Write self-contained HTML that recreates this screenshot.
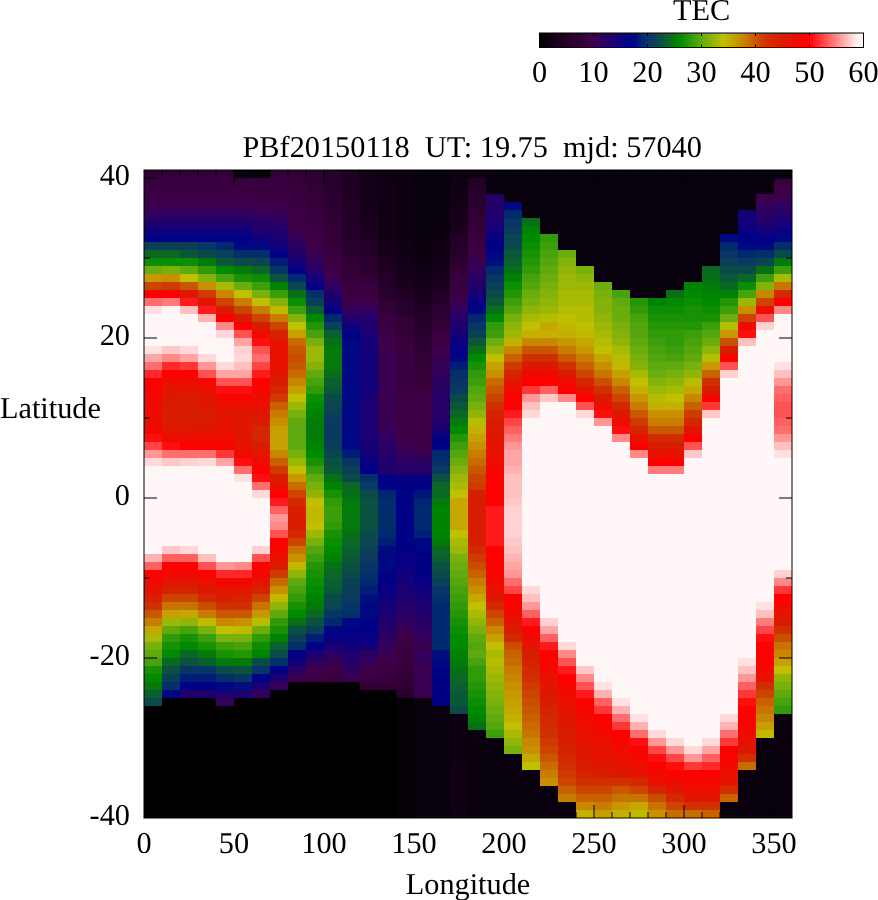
<!DOCTYPE html>
<html><head><meta charset="utf-8"><style>
html,body{margin:0;padding:0;background:#fff;width:878px;height:900px;overflow:hidden}
svg{display:block;will-change:transform;font-family:"Liberation Serif","Times New Roman",serif;font-size:30.3px;text-rendering:geometricPrecision}
</style></head><body>
<svg width="878" height="900" viewBox="0 0 878 900">
<g shape-rendering="crispEdges">
<rect x="144" y="170" width="18" height="8" fill="#320037"/>
<rect x="144" y="178" width="18" height="8" fill="#38003e"/>
<rect x="144" y="186" width="18" height="8" fill="#3b0041"/>
<rect x="144" y="194" width="18" height="8" fill="#3e0044"/>
<rect x="144" y="202" width="18" height="8" fill="#390052"/>
<rect x="144" y="210" width="18" height="8" fill="#2f005f"/>
<rect x="144" y="218" width="18" height="8" fill="#22006b"/>
<rect x="144" y="226" width="18" height="8" fill="#11007a"/>
<rect x="144" y="234" width="18" height="8" fill="#000286"/>
<rect x="144" y="242" width="18" height="8" fill="#0a3f58"/>
<rect x="144" y="250" width="18" height="8" fill="#0a6724"/>
<rect x="144" y="258" width="18" height="8" fill="#0c8e02"/>
<rect x="144" y="266" width="18" height="8" fill="#6cad0e"/>
<rect x="144" y="274" width="18" height="8" fill="#c79800"/>
<rect x="144" y="282" width="18" height="8" fill="#cc4400"/>
<rect x="144" y="290" width="18" height="8" fill="#ff0000"/>
<rect x="144" y="298" width="18" height="8" fill="#ff6e6e"/>
<rect x="144" y="306" width="18" height="8" fill="#ffe1e1"/>
<rect x="144" y="314" width="18" height="32" fill="#fff7f7"/>
<rect x="144" y="346" width="18" height="8" fill="#ffe1e1"/>
<rect x="144" y="354" width="18" height="8" fill="#ffa5a5"/>
<rect x="144" y="362" width="18" height="8" fill="#ff6e6e"/>
<rect x="144" y="370" width="18" height="8" fill="#ff2929"/>
<rect x="144" y="378" width="18" height="16" fill="#ff0000"/>
<rect x="144" y="394" width="18" height="8" fill="#f70600"/>
<rect x="144" y="402" width="18" height="24" fill="#ef0b00"/>
<rect x="144" y="426" width="18" height="8" fill="#f30800"/>
<rect x="144" y="434" width="18" height="8" fill="#ff0e0e"/>
<rect x="144" y="442" width="18" height="8" fill="#ff4545"/>
<rect x="144" y="450" width="18" height="8" fill="#ff9797"/>
<rect x="144" y="458" width="18" height="8" fill="#ffd9d9"/>
<rect x="144" y="466" width="18" height="88" fill="#fff7f7"/>
<rect x="144" y="554" width="18" height="8" fill="#ffb2b2"/>
<rect x="144" y="562" width="18" height="8" fill="#ff6060"/>
<rect x="144" y="570" width="18" height="8" fill="#ff0000"/>
<rect x="144" y="578" width="18" height="8" fill="#f30800"/>
<rect x="144" y="586" width="18" height="8" fill="#e81100"/>
<rect x="144" y="594" width="18" height="8" fill="#d71f00"/>
<rect x="144" y="602" width="18" height="8" fill="#d03000"/>
<rect x="144" y="610" width="18" height="8" fill="#c85800"/>
<rect x="144" y="618" width="18" height="8" fill="#c87d00"/>
<rect x="144" y="626" width="18" height="8" fill="#c4a800"/>
<rect x="144" y="634" width="18" height="8" fill="#a8ba04"/>
<rect x="144" y="642" width="18" height="8" fill="#78b00c"/>
<rect x="144" y="650" width="18" height="8" fill="#60aa10"/>
<rect x="144" y="658" width="18" height="8" fill="#48a20c"/>
<rect x="144" y="666" width="18" height="8" fill="#189204"/>
<rect x="144" y="674" width="18" height="8" fill="#008a00"/>
<rect x="144" y="682" width="18" height="8" fill="#037a09"/>
<rect x="144" y="690" width="18" height="8" fill="#0a602e"/>
<rect x="144" y="698" width="18" height="8" fill="#0a4a48"/>
<rect x="144" y="706" width="18" height="112" fill="#000000"/>
<rect x="162" y="170" width="18" height="8" fill="#35003a"/>
<rect x="162" y="178" width="18" height="8" fill="#38003e"/>
<rect x="162" y="186" width="18" height="8" fill="#3b0041"/>
<rect x="162" y="194" width="18" height="8" fill="#3e0044"/>
<rect x="162" y="202" width="18" height="8" fill="#390052"/>
<rect x="162" y="210" width="18" height="8" fill="#2f005f"/>
<rect x="162" y="218" width="18" height="8" fill="#22006b"/>
<rect x="162" y="226" width="18" height="8" fill="#11007a"/>
<rect x="162" y="234" width="18" height="8" fill="#000286"/>
<rect x="162" y="242" width="18" height="8" fill="#0a3f58"/>
<rect x="162" y="250" width="18" height="8" fill="#0a6724"/>
<rect x="162" y="258" width="18" height="8" fill="#0c8e02"/>
<rect x="162" y="266" width="18" height="8" fill="#78b00c"/>
<rect x="162" y="274" width="18" height="8" fill="#c89000"/>
<rect x="162" y="282" width="18" height="8" fill="#ce3a00"/>
<rect x="162" y="290" width="18" height="8" fill="#ff0000"/>
<rect x="162" y="298" width="18" height="8" fill="#ff7c7c"/>
<rect x="162" y="306" width="18" height="40" fill="#fff7f7"/>
<rect x="162" y="346" width="18" height="8" fill="#ffc8c8"/>
<rect x="162" y="354" width="18" height="8" fill="#ff8989"/>
<rect x="162" y="362" width="18" height="8" fill="#ff2929"/>
<rect x="162" y="370" width="18" height="8" fill="#ff0000"/>
<rect x="162" y="378" width="18" height="8" fill="#ef0b00"/>
<rect x="162" y="386" width="18" height="8" fill="#e01600"/>
<rect x="162" y="394" width="18" height="8" fill="#dc1900"/>
<rect x="162" y="402" width="18" height="24" fill="#d81c00"/>
<rect x="162" y="426" width="18" height="8" fill="#e01600"/>
<rect x="162" y="434" width="18" height="8" fill="#ef0b00"/>
<rect x="162" y="442" width="18" height="8" fill="#ff0e0e"/>
<rect x="162" y="450" width="18" height="8" fill="#ff6e6e"/>
<rect x="162" y="458" width="18" height="8" fill="#ffc8c8"/>
<rect x="162" y="466" width="18" height="80" fill="#fff7f7"/>
<rect x="162" y="546" width="18" height="8" fill="#ffc8c8"/>
<rect x="162" y="554" width="18" height="8" fill="#ff6060"/>
<rect x="162" y="562" width="18" height="8" fill="#ff0000"/>
<rect x="162" y="570" width="18" height="8" fill="#f30800"/>
<rect x="162" y="578" width="18" height="8" fill="#e01600"/>
<rect x="162" y="586" width="18" height="8" fill="#d52300"/>
<rect x="162" y="594" width="18" height="8" fill="#cc4400"/>
<rect x="162" y="602" width="18" height="8" fill="#c87400"/>
<rect x="162" y="610" width="18" height="8" fill="#c5a000"/>
<rect x="162" y="618" width="18" height="8" fill="#9cb806"/>
<rect x="162" y="626" width="18" height="8" fill="#60aa10"/>
<rect x="162" y="634" width="18" height="8" fill="#309a08"/>
<rect x="162" y="642" width="18" height="8" fill="#189204"/>
<rect x="162" y="650" width="18" height="8" fill="#008a00"/>
<rect x="162" y="658" width="18" height="8" fill="#0a6724"/>
<rect x="162" y="666" width="18" height="8" fill="#0a5140"/>
<rect x="162" y="674" width="18" height="8" fill="#0a3f58"/>
<rect x="162" y="682" width="18" height="8" fill="#032f6b"/>
<rect x="162" y="690" width="18" height="8" fill="#000782"/>
<rect x="162" y="698" width="18" height="120" fill="#000000"/>
<rect x="180" y="170" width="18" height="8" fill="#35003a"/>
<rect x="180" y="178" width="18" height="8" fill="#38003e"/>
<rect x="180" y="186" width="18" height="8" fill="#3b0041"/>
<rect x="180" y="194" width="18" height="8" fill="#3e0044"/>
<rect x="180" y="202" width="18" height="8" fill="#390052"/>
<rect x="180" y="210" width="18" height="8" fill="#2f005f"/>
<rect x="180" y="218" width="18" height="8" fill="#22006b"/>
<rect x="180" y="226" width="18" height="8" fill="#11007a"/>
<rect x="180" y="234" width="18" height="8" fill="#000286"/>
<rect x="180" y="242" width="18" height="8" fill="#0a3f58"/>
<rect x="180" y="250" width="18" height="8" fill="#0a5838"/>
<rect x="180" y="258" width="18" height="8" fill="#0c8e02"/>
<rect x="180" y="266" width="18" height="8" fill="#60aa10"/>
<rect x="180" y="274" width="18" height="8" fill="#c0c000"/>
<rect x="180" y="282" width="18" height="8" fill="#c85800"/>
<rect x="180" y="290" width="18" height="8" fill="#e01600"/>
<rect x="180" y="298" width="18" height="8" fill="#ff1b1b"/>
<rect x="180" y="306" width="18" height="8" fill="#ffc0c0"/>
<rect x="180" y="314" width="18" height="32" fill="#fff7f7"/>
<rect x="180" y="346" width="18" height="8" fill="#ffd9d9"/>
<rect x="180" y="354" width="18" height="8" fill="#ffa5a5"/>
<rect x="180" y="362" width="18" height="8" fill="#ff3737"/>
<rect x="180" y="370" width="18" height="8" fill="#ff0000"/>
<rect x="180" y="378" width="18" height="8" fill="#ef0b00"/>
<rect x="180" y="386" width="18" height="8" fill="#e01600"/>
<rect x="180" y="394" width="18" height="32" fill="#d81c00"/>
<rect x="180" y="426" width="18" height="8" fill="#e01600"/>
<rect x="180" y="434" width="18" height="8" fill="#ef0b00"/>
<rect x="180" y="442" width="18" height="8" fill="#ff0000"/>
<rect x="180" y="450" width="18" height="8" fill="#ff6e6e"/>
<rect x="180" y="458" width="18" height="8" fill="#ffd1d1"/>
<rect x="180" y="466" width="18" height="80" fill="#fff7f7"/>
<rect x="180" y="546" width="18" height="8" fill="#ffd9d9"/>
<rect x="180" y="554" width="18" height="8" fill="#ff6060"/>
<rect x="180" y="562" width="18" height="8" fill="#ff0000"/>
<rect x="180" y="570" width="18" height="8" fill="#f30800"/>
<rect x="180" y="578" width="18" height="8" fill="#e01600"/>
<rect x="180" y="586" width="18" height="8" fill="#d52300"/>
<rect x="180" y="594" width="18" height="8" fill="#cc4400"/>
<rect x="180" y="602" width="18" height="8" fill="#c87400"/>
<rect x="180" y="610" width="18" height="8" fill="#c4a800"/>
<rect x="180" y="618" width="18" height="8" fill="#90b508"/>
<rect x="180" y="626" width="18" height="8" fill="#48a20c"/>
<rect x="180" y="634" width="18" height="8" fill="#189204"/>
<rect x="180" y="642" width="18" height="8" fill="#008a00"/>
<rect x="180" y="650" width="18" height="8" fill="#0a6724"/>
<rect x="180" y="658" width="18" height="8" fill="#0a5140"/>
<rect x="180" y="666" width="18" height="8" fill="#073565"/>
<rect x="180" y="674" width="18" height="8" fill="#001d77"/>
<rect x="180" y="682" width="18" height="8" fill="#000286"/>
<rect x="180" y="690" width="18" height="8" fill="#22006b"/>
<rect x="180" y="698" width="18" height="120" fill="#000000"/>
<rect x="198" y="170" width="18" height="8" fill="#35003a"/>
<rect x="198" y="178" width="18" height="8" fill="#38003e"/>
<rect x="198" y="186" width="18" height="8" fill="#3b0041"/>
<rect x="198" y="194" width="18" height="8" fill="#3e0044"/>
<rect x="198" y="202" width="18" height="8" fill="#390052"/>
<rect x="198" y="210" width="18" height="8" fill="#2f005f"/>
<rect x="198" y="218" width="18" height="8" fill="#22006b"/>
<rect x="198" y="226" width="18" height="8" fill="#11007a"/>
<rect x="198" y="234" width="18" height="8" fill="#000286"/>
<rect x="198" y="242" width="18" height="8" fill="#073565"/>
<rect x="198" y="250" width="18" height="8" fill="#0a4a48"/>
<rect x="198" y="258" width="18" height="8" fill="#037a09"/>
<rect x="198" y="266" width="18" height="8" fill="#309a08"/>
<rect x="198" y="274" width="18" height="8" fill="#84b20a"/>
<rect x="198" y="282" width="18" height="8" fill="#c89000"/>
<rect x="198" y="290" width="18" height="8" fill="#ce3a00"/>
<rect x="198" y="298" width="18" height="8" fill="#e01600"/>
<rect x="198" y="306" width="18" height="8" fill="#ff1b1b"/>
<rect x="198" y="314" width="18" height="8" fill="#ffb2b2"/>
<rect x="198" y="322" width="18" height="32" fill="#fff7f7"/>
<rect x="198" y="354" width="18" height="8" fill="#ffd9d9"/>
<rect x="198" y="362" width="18" height="8" fill="#ff9797"/>
<rect x="198" y="370" width="18" height="8" fill="#ff5252"/>
<rect x="198" y="378" width="18" height="8" fill="#f70600"/>
<rect x="198" y="386" width="18" height="8" fill="#e81100"/>
<rect x="198" y="394" width="18" height="8" fill="#e01600"/>
<rect x="198" y="402" width="18" height="8" fill="#dc1900"/>
<rect x="198" y="410" width="18" height="8" fill="#d81c00"/>
<rect x="198" y="418" width="18" height="8" fill="#dc1900"/>
<rect x="198" y="426" width="18" height="8" fill="#e01600"/>
<rect x="198" y="434" width="18" height="8" fill="#ef0b00"/>
<rect x="198" y="442" width="18" height="8" fill="#f70600"/>
<rect x="198" y="450" width="18" height="8" fill="#ff6e6e"/>
<rect x="198" y="458" width="18" height="8" fill="#ffd9d9"/>
<rect x="198" y="466" width="18" height="88" fill="#fff7f7"/>
<rect x="198" y="554" width="18" height="8" fill="#ffc0c0"/>
<rect x="198" y="562" width="18" height="8" fill="#ff5252"/>
<rect x="198" y="570" width="18" height="8" fill="#ff0000"/>
<rect x="198" y="578" width="18" height="8" fill="#ec0e00"/>
<rect x="198" y="586" width="18" height="8" fill="#dc1900"/>
<rect x="198" y="594" width="18" height="8" fill="#d42600"/>
<rect x="198" y="602" width="18" height="8" fill="#ca4e00"/>
<rect x="198" y="610" width="18" height="8" fill="#c87d00"/>
<rect x="198" y="618" width="18" height="8" fill="#c1b800"/>
<rect x="198" y="626" width="18" height="8" fill="#78b00c"/>
<rect x="198" y="634" width="18" height="8" fill="#3c9e0a"/>
<rect x="198" y="642" width="18" height="8" fill="#189204"/>
<rect x="198" y="650" width="18" height="8" fill="#037a09"/>
<rect x="198" y="658" width="18" height="8" fill="#0a602e"/>
<rect x="198" y="666" width="18" height="8" fill="#073565"/>
<rect x="198" y="674" width="18" height="8" fill="#001d77"/>
<rect x="198" y="682" width="18" height="8" fill="#000286"/>
<rect x="198" y="690" width="18" height="8" fill="#22006b"/>
<rect x="198" y="698" width="18" height="120" fill="#000000"/>
<rect x="216" y="170" width="18" height="8" fill="#35003a"/>
<rect x="216" y="178" width="18" height="8" fill="#38003e"/>
<rect x="216" y="186" width="18" height="8" fill="#3b0041"/>
<rect x="216" y="194" width="18" height="8" fill="#3e0044"/>
<rect x="216" y="202" width="18" height="8" fill="#390052"/>
<rect x="216" y="210" width="18" height="8" fill="#2f005f"/>
<rect x="216" y="218" width="18" height="8" fill="#22006b"/>
<rect x="216" y="226" width="18" height="8" fill="#11007a"/>
<rect x="216" y="234" width="18" height="8" fill="#000286"/>
<rect x="216" y="242" width="18" height="8" fill="#002a70"/>
<rect x="216" y="250" width="18" height="8" fill="#0a3f58"/>
<rect x="216" y="258" width="18" height="8" fill="#0a5838"/>
<rect x="216" y="266" width="18" height="8" fill="#008a00"/>
<rect x="216" y="274" width="18" height="8" fill="#48a20c"/>
<rect x="216" y="282" width="18" height="8" fill="#a8ba04"/>
<rect x="216" y="290" width="18" height="8" fill="#c88700"/>
<rect x="216" y="298" width="18" height="8" fill="#cc4400"/>
<rect x="216" y="306" width="18" height="8" fill="#d81c00"/>
<rect x="216" y="314" width="18" height="8" fill="#ff0000"/>
<rect x="216" y="322" width="18" height="8" fill="#ff8989"/>
<rect x="216" y="330" width="18" height="8" fill="#ffd9d9"/>
<rect x="216" y="338" width="18" height="24" fill="#fff7f7"/>
<rect x="216" y="362" width="18" height="8" fill="#ffd9d9"/>
<rect x="216" y="370" width="18" height="8" fill="#ffa5a5"/>
<rect x="216" y="378" width="18" height="8" fill="#ff5252"/>
<rect x="216" y="386" width="18" height="8" fill="#ff0e0e"/>
<rect x="216" y="394" width="18" height="8" fill="#f30800"/>
<rect x="216" y="402" width="18" height="8" fill="#e81100"/>
<rect x="216" y="410" width="18" height="16" fill="#e41400"/>
<rect x="216" y="426" width="18" height="8" fill="#e81100"/>
<rect x="216" y="434" width="18" height="8" fill="#ef0b00"/>
<rect x="216" y="442" width="18" height="8" fill="#f70600"/>
<rect x="216" y="450" width="18" height="8" fill="#ff3737"/>
<rect x="216" y="458" width="18" height="8" fill="#ffa5a5"/>
<rect x="216" y="466" width="18" height="96" fill="#fff7f7"/>
<rect x="216" y="562" width="18" height="8" fill="#ff9797"/>
<rect x="216" y="570" width="18" height="8" fill="#ff2929"/>
<rect x="216" y="578" width="18" height="8" fill="#f30800"/>
<rect x="216" y="586" width="18" height="8" fill="#e41400"/>
<rect x="216" y="594" width="18" height="8" fill="#d71f00"/>
<rect x="216" y="602" width="18" height="8" fill="#d03000"/>
<rect x="216" y="610" width="18" height="8" fill="#c85800"/>
<rect x="216" y="618" width="18" height="8" fill="#c88700"/>
<rect x="216" y="626" width="18" height="8" fill="#c0c000"/>
<rect x="216" y="634" width="18" height="8" fill="#78b00c"/>
<rect x="216" y="642" width="18" height="8" fill="#3c9e0a"/>
<rect x="216" y="650" width="18" height="8" fill="#189204"/>
<rect x="216" y="658" width="18" height="8" fill="#037a09"/>
<rect x="216" y="666" width="18" height="8" fill="#0a4a48"/>
<rect x="216" y="674" width="18" height="8" fill="#032f6b"/>
<rect x="216" y="682" width="18" height="8" fill="#000782"/>
<rect x="216" y="690" width="18" height="8" fill="#1e006f"/>
<rect x="216" y="698" width="18" height="8" fill="#34005a"/>
<rect x="216" y="706" width="18" height="112" fill="#000000"/>
<rect x="234" y="170" width="18" height="8" fill="#08000c"/>
<rect x="234" y="178" width="18" height="8" fill="#38003e"/>
<rect x="234" y="186" width="18" height="8" fill="#3b0041"/>
<rect x="234" y="194" width="18" height="8" fill="#3e0044"/>
<rect x="234" y="202" width="18" height="8" fill="#390052"/>
<rect x="234" y="210" width="18" height="8" fill="#2f005f"/>
<rect x="234" y="218" width="18" height="8" fill="#22006b"/>
<rect x="234" y="226" width="18" height="8" fill="#11007a"/>
<rect x="234" y="234" width="18" height="8" fill="#000286"/>
<rect x="234" y="242" width="18" height="8" fill="#000782"/>
<rect x="234" y="250" width="18" height="8" fill="#032f6b"/>
<rect x="234" y="258" width="18" height="8" fill="#0a4a48"/>
<rect x="234" y="266" width="18" height="8" fill="#037a09"/>
<rect x="234" y="274" width="18" height="8" fill="#189204"/>
<rect x="234" y="282" width="18" height="8" fill="#6cad0e"/>
<rect x="234" y="290" width="18" height="8" fill="#c0c000"/>
<rect x="234" y="298" width="18" height="8" fill="#c87d00"/>
<rect x="234" y="306" width="18" height="8" fill="#cc4400"/>
<rect x="234" y="314" width="18" height="8" fill="#d81c00"/>
<rect x="234" y="322" width="18" height="8" fill="#ff0000"/>
<rect x="234" y="330" width="18" height="8" fill="#ff5252"/>
<rect x="234" y="338" width="18" height="8" fill="#ffa5a5"/>
<rect x="234" y="346" width="18" height="8" fill="#ffd1d1"/>
<rect x="234" y="354" width="18" height="8" fill="#ffd9d9"/>
<rect x="234" y="362" width="18" height="8" fill="#ffc0c0"/>
<rect x="234" y="370" width="18" height="8" fill="#ffa5a5"/>
<rect x="234" y="378" width="18" height="8" fill="#ff5252"/>
<rect x="234" y="386" width="18" height="8" fill="#ff0e0e"/>
<rect x="234" y="394" width="18" height="8" fill="#fb0300"/>
<rect x="234" y="402" width="18" height="8" fill="#e81100"/>
<rect x="234" y="410" width="18" height="32" fill="#e01600"/>
<rect x="234" y="442" width="18" height="8" fill="#e41400"/>
<rect x="234" y="450" width="18" height="8" fill="#ef0b00"/>
<rect x="234" y="458" width="18" height="8" fill="#ff0e0e"/>
<rect x="234" y="466" width="18" height="8" fill="#ff6e6e"/>
<rect x="234" y="474" width="18" height="8" fill="#ffe1e1"/>
<rect x="234" y="482" width="18" height="80" fill="#fff7f7"/>
<rect x="234" y="562" width="18" height="8" fill="#ff8989"/>
<rect x="234" y="570" width="18" height="8" fill="#ff2929"/>
<rect x="234" y="578" width="18" height="8" fill="#f30800"/>
<rect x="234" y="586" width="18" height="8" fill="#e41400"/>
<rect x="234" y="594" width="18" height="8" fill="#d52300"/>
<rect x="234" y="602" width="18" height="8" fill="#d03000"/>
<rect x="234" y="610" width="18" height="8" fill="#c85800"/>
<rect x="234" y="618" width="18" height="8" fill="#c89000"/>
<rect x="234" y="626" width="18" height="8" fill="#c1b800"/>
<rect x="234" y="634" width="18" height="8" fill="#78b00c"/>
<rect x="234" y="642" width="18" height="8" fill="#48a20c"/>
<rect x="234" y="650" width="18" height="8" fill="#249606"/>
<rect x="234" y="658" width="18" height="8" fill="#037a09"/>
<rect x="234" y="666" width="18" height="8" fill="#0a5140"/>
<rect x="234" y="674" width="18" height="8" fill="#073565"/>
<rect x="234" y="682" width="18" height="8" fill="#000f7d"/>
<rect x="234" y="690" width="18" height="8" fill="#1e006f"/>
<rect x="234" y="698" width="18" height="120" fill="#000000"/>
<rect x="252" y="170" width="18" height="8" fill="#040006"/>
<rect x="252" y="178" width="18" height="16" fill="#38003e"/>
<rect x="252" y="194" width="18" height="8" fill="#3b0041"/>
<rect x="252" y="202" width="18" height="8" fill="#3e0049"/>
<rect x="252" y="210" width="18" height="8" fill="#34005a"/>
<rect x="252" y="218" width="18" height="8" fill="#260068"/>
<rect x="252" y="226" width="18" height="8" fill="#1e006f"/>
<rect x="252" y="234" width="18" height="8" fill="#11007a"/>
<rect x="252" y="242" width="18" height="8" fill="#000782"/>
<rect x="252" y="250" width="18" height="8" fill="#032f6b"/>
<rect x="252" y="258" width="18" height="8" fill="#0a4550"/>
<rect x="252" y="266" width="18" height="8" fill="#0a6724"/>
<rect x="252" y="274" width="18" height="8" fill="#0c8e02"/>
<rect x="252" y="282" width="18" height="8" fill="#3c9e0a"/>
<rect x="252" y="290" width="18" height="8" fill="#78b00c"/>
<rect x="252" y="298" width="18" height="8" fill="#c0c000"/>
<rect x="252" y="306" width="18" height="8" fill="#c87d00"/>
<rect x="252" y="314" width="18" height="8" fill="#cc4400"/>
<rect x="252" y="322" width="18" height="8" fill="#d81c00"/>
<rect x="252" y="330" width="18" height="8" fill="#ef0b00"/>
<rect x="252" y="338" width="18" height="8" fill="#ff0e0e"/>
<rect x="252" y="346" width="18" height="8" fill="#ff5252"/>
<rect x="252" y="354" width="18" height="8" fill="#ff6e6e"/>
<rect x="252" y="362" width="18" height="8" fill="#ff4545"/>
<rect x="252" y="370" width="18" height="8" fill="#ff1b1b"/>
<rect x="252" y="378" width="18" height="8" fill="#ff0000"/>
<rect x="252" y="386" width="18" height="8" fill="#f70600"/>
<rect x="252" y="394" width="18" height="8" fill="#ef0b00"/>
<rect x="252" y="402" width="18" height="8" fill="#e81100"/>
<rect x="252" y="410" width="18" height="8" fill="#e01600"/>
<rect x="252" y="418" width="18" height="8" fill="#d81c00"/>
<rect x="252" y="426" width="18" height="16" fill="#d42600"/>
<rect x="252" y="442" width="18" height="8" fill="#d81c00"/>
<rect x="252" y="450" width="18" height="8" fill="#e41400"/>
<rect x="252" y="458" width="18" height="8" fill="#ef0b00"/>
<rect x="252" y="466" width="18" height="8" fill="#fb0300"/>
<rect x="252" y="474" width="18" height="8" fill="#ff0e0e"/>
<rect x="252" y="482" width="18" height="8" fill="#ff6e6e"/>
<rect x="252" y="490" width="18" height="8" fill="#ffd9d9"/>
<rect x="252" y="498" width="18" height="48" fill="#fff7f7"/>
<rect x="252" y="546" width="18" height="8" fill="#ffd1d1"/>
<rect x="252" y="554" width="18" height="8" fill="#ff5252"/>
<rect x="252" y="562" width="18" height="8" fill="#ff0000"/>
<rect x="252" y="570" width="18" height="8" fill="#f30800"/>
<rect x="252" y="578" width="18" height="8" fill="#e41400"/>
<rect x="252" y="586" width="18" height="8" fill="#d52300"/>
<rect x="252" y="594" width="18" height="8" fill="#cc4400"/>
<rect x="252" y="602" width="18" height="8" fill="#c87400"/>
<rect x="252" y="610" width="18" height="8" fill="#c79800"/>
<rect x="252" y="618" width="18" height="8" fill="#b4bd02"/>
<rect x="252" y="626" width="18" height="8" fill="#6cad0e"/>
<rect x="252" y="634" width="18" height="8" fill="#309a08"/>
<rect x="252" y="642" width="18" height="8" fill="#0c8e02"/>
<rect x="252" y="650" width="18" height="8" fill="#008300"/>
<rect x="252" y="658" width="18" height="8" fill="#0a4a48"/>
<rect x="252" y="666" width="18" height="8" fill="#073565"/>
<rect x="252" y="674" width="18" height="8" fill="#000286"/>
<rect x="252" y="682" width="18" height="8" fill="#1a0072"/>
<rect x="252" y="690" width="18" height="8" fill="#34005a"/>
<rect x="252" y="698" width="18" height="120" fill="#000000"/>
<rect x="270" y="170" width="18" height="8" fill="#35003a"/>
<rect x="270" y="178" width="18" height="16" fill="#38003e"/>
<rect x="270" y="194" width="18" height="8" fill="#3b0041"/>
<rect x="270" y="202" width="18" height="8" fill="#3e0049"/>
<rect x="270" y="210" width="18" height="8" fill="#34005a"/>
<rect x="270" y="218" width="18" height="8" fill="#2b0063"/>
<rect x="270" y="226" width="18" height="8" fill="#22006b"/>
<rect x="270" y="234" width="18" height="8" fill="#1a0072"/>
<rect x="270" y="242" width="18" height="8" fill="#11007a"/>
<rect x="270" y="250" width="18" height="8" fill="#000286"/>
<rect x="270" y="258" width="18" height="8" fill="#001d77"/>
<rect x="270" y="266" width="18" height="8" fill="#073565"/>
<rect x="270" y="274" width="18" height="8" fill="#0a5140"/>
<rect x="270" y="282" width="18" height="8" fill="#008300"/>
<rect x="270" y="290" width="18" height="8" fill="#3c9e0a"/>
<rect x="270" y="298" width="18" height="8" fill="#84b20a"/>
<rect x="270" y="306" width="18" height="8" fill="#c1b800"/>
<rect x="270" y="314" width="18" height="8" fill="#c87d00"/>
<rect x="270" y="322" width="18" height="8" fill="#cc4400"/>
<rect x="270" y="330" width="18" height="8" fill="#d52300"/>
<rect x="270" y="338" width="18" height="8" fill="#e41400"/>
<rect x="270" y="346" width="18" height="24" fill="#e81100"/>
<rect x="270" y="370" width="18" height="8" fill="#e01600"/>
<rect x="270" y="378" width="18" height="8" fill="#d81c00"/>
<rect x="270" y="386" width="18" height="8" fill="#d42600"/>
<rect x="270" y="394" width="18" height="8" fill="#ce3a00"/>
<rect x="270" y="402" width="18" height="8" fill="#c86100"/>
<rect x="270" y="410" width="18" height="8" fill="#c87d00"/>
<rect x="270" y="418" width="18" height="8" fill="#c89000"/>
<rect x="270" y="426" width="18" height="24" fill="#c5a000"/>
<rect x="270" y="450" width="18" height="8" fill="#c88700"/>
<rect x="270" y="458" width="18" height="8" fill="#c86100"/>
<rect x="270" y="466" width="18" height="8" fill="#ce3a00"/>
<rect x="270" y="474" width="18" height="8" fill="#d71f00"/>
<rect x="270" y="482" width="18" height="8" fill="#e81100"/>
<rect x="270" y="490" width="18" height="8" fill="#ff0000"/>
<rect x="270" y="498" width="18" height="8" fill="#ff1b1b"/>
<rect x="270" y="506" width="18" height="8" fill="#ff6060"/>
<rect x="270" y="514" width="18" height="8" fill="#ff9797"/>
<rect x="270" y="522" width="18" height="8" fill="#ff8989"/>
<rect x="270" y="530" width="18" height="8" fill="#ff5252"/>
<rect x="270" y="538" width="18" height="8" fill="#ff0000"/>
<rect x="270" y="546" width="18" height="8" fill="#f30800"/>
<rect x="270" y="554" width="18" height="8" fill="#e81100"/>
<rect x="270" y="562" width="18" height="8" fill="#d81c00"/>
<rect x="270" y="570" width="18" height="8" fill="#ce3a00"/>
<rect x="270" y="578" width="18" height="8" fill="#c86b00"/>
<rect x="270" y="586" width="18" height="8" fill="#c89000"/>
<rect x="270" y="594" width="18" height="8" fill="#c1b800"/>
<rect x="270" y="602" width="18" height="8" fill="#90b508"/>
<rect x="270" y="610" width="18" height="8" fill="#60aa10"/>
<rect x="270" y="618" width="18" height="8" fill="#309a08"/>
<rect x="270" y="626" width="18" height="8" fill="#189204"/>
<rect x="270" y="634" width="18" height="8" fill="#008300"/>
<rect x="270" y="642" width="18" height="8" fill="#0a602e"/>
<rect x="270" y="650" width="18" height="8" fill="#0a4a48"/>
<rect x="270" y="658" width="18" height="8" fill="#032f6b"/>
<rect x="270" y="666" width="18" height="8" fill="#000286"/>
<rect x="270" y="674" width="18" height="8" fill="#1e006f"/>
<rect x="270" y="682" width="18" height="8" fill="#34005a"/>
<rect x="270" y="690" width="18" height="128" fill="#000000"/>
<rect x="288" y="170" width="18" height="8" fill="#320037"/>
<rect x="288" y="178" width="18" height="8" fill="#35003a"/>
<rect x="288" y="186" width="18" height="16" fill="#38003e"/>
<rect x="288" y="202" width="18" height="8" fill="#3b0041"/>
<rect x="288" y="210" width="18" height="16" fill="#3e0044"/>
<rect x="288" y="226" width="18" height="8" fill="#3e0049"/>
<rect x="288" y="234" width="18" height="8" fill="#34005a"/>
<rect x="288" y="242" width="18" height="8" fill="#2b0063"/>
<rect x="288" y="250" width="18" height="8" fill="#22006b"/>
<rect x="288" y="258" width="18" height="8" fill="#150076"/>
<rect x="288" y="266" width="18" height="8" fill="#030086"/>
<rect x="288" y="274" width="18" height="8" fill="#002a70"/>
<rect x="288" y="282" width="18" height="8" fill="#0a4550"/>
<rect x="288" y="290" width="18" height="8" fill="#077017"/>
<rect x="288" y="298" width="18" height="8" fill="#0c8e02"/>
<rect x="288" y="306" width="18" height="8" fill="#3c9e0a"/>
<rect x="288" y="314" width="18" height="8" fill="#84b20a"/>
<rect x="288" y="322" width="18" height="8" fill="#c0c000"/>
<rect x="288" y="330" width="18" height="8" fill="#c5a000"/>
<rect x="288" y="338" width="18" height="8" fill="#c86b00"/>
<rect x="288" y="346" width="18" height="8" fill="#c85800"/>
<rect x="288" y="354" width="18" height="8" fill="#ca4e00"/>
<rect x="288" y="362" width="18" height="8" fill="#c85800"/>
<rect x="288" y="370" width="18" height="8" fill="#c86b00"/>
<rect x="288" y="378" width="18" height="8" fill="#c88700"/>
<rect x="288" y="386" width="18" height="8" fill="#c5a000"/>
<rect x="288" y="394" width="18" height="8" fill="#c0c000"/>
<rect x="288" y="402" width="18" height="8" fill="#9cb806"/>
<rect x="288" y="410" width="18" height="8" fill="#78b00c"/>
<rect x="288" y="418" width="18" height="32" fill="#60aa10"/>
<rect x="288" y="450" width="18" height="8" fill="#78b00c"/>
<rect x="288" y="458" width="18" height="8" fill="#9cb806"/>
<rect x="288" y="466" width="18" height="8" fill="#c0c000"/>
<rect x="288" y="474" width="18" height="8" fill="#c79800"/>
<rect x="288" y="482" width="18" height="8" fill="#c86b00"/>
<rect x="288" y="490" width="18" height="8" fill="#cc4400"/>
<rect x="288" y="498" width="18" height="8" fill="#d32900"/>
<rect x="288" y="506" width="18" height="8" fill="#d71f00"/>
<rect x="288" y="514" width="18" height="16" fill="#d81c00"/>
<rect x="288" y="530" width="18" height="8" fill="#d42600"/>
<rect x="288" y="538" width="18" height="8" fill="#cc4400"/>
<rect x="288" y="546" width="18" height="8" fill="#c87400"/>
<rect x="288" y="554" width="18" height="8" fill="#c89000"/>
<rect x="288" y="562" width="18" height="8" fill="#c1b800"/>
<rect x="288" y="570" width="18" height="8" fill="#90b508"/>
<rect x="288" y="578" width="18" height="8" fill="#60aa10"/>
<rect x="288" y="586" width="18" height="8" fill="#48a20c"/>
<rect x="288" y="594" width="18" height="8" fill="#309a08"/>
<rect x="288" y="602" width="18" height="8" fill="#189204"/>
<rect x="288" y="610" width="18" height="8" fill="#008a00"/>
<rect x="288" y="618" width="18" height="8" fill="#077017"/>
<rect x="288" y="626" width="18" height="8" fill="#0a5140"/>
<rect x="288" y="634" width="18" height="8" fill="#0a3f58"/>
<rect x="288" y="642" width="18" height="8" fill="#032f6b"/>
<rect x="288" y="650" width="18" height="8" fill="#030086"/>
<rect x="288" y="658" width="18" height="8" fill="#11007a"/>
<rect x="288" y="666" width="18" height="8" fill="#2b0063"/>
<rect x="288" y="674" width="18" height="8" fill="#390052"/>
<rect x="288" y="682" width="18" height="136" fill="#000000"/>
<rect x="306" y="170" width="18" height="16" fill="#2e0034"/>
<rect x="306" y="186" width="18" height="8" fill="#320037"/>
<rect x="306" y="194" width="18" height="16" fill="#35003a"/>
<rect x="306" y="210" width="18" height="16" fill="#38003e"/>
<rect x="306" y="226" width="18" height="16" fill="#3b0041"/>
<rect x="306" y="242" width="18" height="8" fill="#3e0044"/>
<rect x="306" y="250" width="18" height="8" fill="#390052"/>
<rect x="306" y="258" width="18" height="8" fill="#2f005f"/>
<rect x="306" y="266" width="18" height="8" fill="#260068"/>
<rect x="306" y="274" width="18" height="8" fill="#150076"/>
<rect x="306" y="282" width="18" height="8" fill="#030086"/>
<rect x="306" y="290" width="18" height="8" fill="#032f6b"/>
<rect x="306" y="298" width="18" height="8" fill="#0a3f58"/>
<rect x="306" y="306" width="18" height="8" fill="#0a602e"/>
<rect x="306" y="314" width="18" height="8" fill="#008a00"/>
<rect x="306" y="322" width="18" height="8" fill="#249606"/>
<rect x="306" y="330" width="18" height="8" fill="#48a20c"/>
<rect x="306" y="338" width="18" height="8" fill="#78b00c"/>
<rect x="306" y="346" width="18" height="16" fill="#9cb806"/>
<rect x="306" y="362" width="18" height="8" fill="#84b20a"/>
<rect x="306" y="370" width="18" height="8" fill="#60aa10"/>
<rect x="306" y="378" width="18" height="8" fill="#48a20c"/>
<rect x="306" y="386" width="18" height="8" fill="#309a08"/>
<rect x="306" y="394" width="18" height="8" fill="#0c8e02"/>
<rect x="306" y="402" width="18" height="8" fill="#008a00"/>
<rect x="306" y="410" width="18" height="8" fill="#008300"/>
<rect x="306" y="418" width="18" height="24" fill="#037a09"/>
<rect x="306" y="442" width="18" height="8" fill="#008300"/>
<rect x="306" y="450" width="18" height="8" fill="#008a00"/>
<rect x="306" y="458" width="18" height="8" fill="#189204"/>
<rect x="306" y="466" width="18" height="8" fill="#3c9e0a"/>
<rect x="306" y="474" width="18" height="8" fill="#60aa10"/>
<rect x="306" y="482" width="18" height="8" fill="#78b00c"/>
<rect x="306" y="490" width="18" height="8" fill="#90b508"/>
<rect x="306" y="498" width="18" height="8" fill="#c0c000"/>
<rect x="306" y="506" width="18" height="16" fill="#c1b800"/>
<rect x="306" y="522" width="18" height="8" fill="#c0c000"/>
<rect x="306" y="530" width="18" height="8" fill="#9cb806"/>
<rect x="306" y="538" width="18" height="8" fill="#78b00c"/>
<rect x="306" y="546" width="18" height="8" fill="#54a60e"/>
<rect x="306" y="554" width="18" height="8" fill="#3c9e0a"/>
<rect x="306" y="562" width="18" height="8" fill="#249606"/>
<rect x="306" y="570" width="18" height="8" fill="#189204"/>
<rect x="306" y="578" width="18" height="8" fill="#0c8e02"/>
<rect x="306" y="586" width="18" height="8" fill="#008a00"/>
<rect x="306" y="594" width="18" height="8" fill="#008300"/>
<rect x="306" y="602" width="18" height="8" fill="#037a09"/>
<rect x="306" y="610" width="18" height="8" fill="#0a6724"/>
<rect x="306" y="618" width="18" height="8" fill="#0a5140"/>
<rect x="306" y="626" width="18" height="8" fill="#0a3f58"/>
<rect x="306" y="634" width="18" height="8" fill="#001d77"/>
<rect x="306" y="642" width="18" height="8" fill="#000286"/>
<rect x="306" y="650" width="18" height="8" fill="#1a0072"/>
<rect x="306" y="658" width="18" height="8" fill="#2f005f"/>
<rect x="306" y="666" width="18" height="8" fill="#3e0049"/>
<rect x="306" y="674" width="18" height="8" fill="#3b0041"/>
<rect x="306" y="682" width="18" height="136" fill="#000000"/>
<rect x="324" y="170" width="18" height="24" fill="#28002d"/>
<rect x="324" y="194" width="18" height="16" fill="#2b0031"/>
<rect x="324" y="210" width="18" height="16" fill="#2e0034"/>
<rect x="324" y="226" width="18" height="16" fill="#320037"/>
<rect x="324" y="242" width="18" height="8" fill="#35003a"/>
<rect x="324" y="250" width="18" height="8" fill="#38003e"/>
<rect x="324" y="258" width="18" height="8" fill="#3b0041"/>
<rect x="324" y="266" width="18" height="8" fill="#3e0044"/>
<rect x="324" y="274" width="18" height="8" fill="#390052"/>
<rect x="324" y="282" width="18" height="8" fill="#2f005f"/>
<rect x="324" y="290" width="18" height="8" fill="#22006b"/>
<rect x="324" y="298" width="18" height="8" fill="#150076"/>
<rect x="324" y="306" width="18" height="8" fill="#070082"/>
<rect x="324" y="314" width="18" height="8" fill="#002a70"/>
<rect x="324" y="322" width="18" height="8" fill="#0a3f58"/>
<rect x="324" y="330" width="18" height="8" fill="#0a602e"/>
<rect x="324" y="338" width="18" height="8" fill="#077017"/>
<rect x="324" y="346" width="18" height="24" fill="#037a09"/>
<rect x="324" y="370" width="18" height="8" fill="#077017"/>
<rect x="324" y="378" width="18" height="8" fill="#0a602e"/>
<rect x="324" y="386" width="18" height="8" fill="#0a5838"/>
<rect x="324" y="394" width="18" height="8" fill="#0a4a48"/>
<rect x="324" y="402" width="18" height="8" fill="#0a4550"/>
<rect x="324" y="410" width="18" height="8" fill="#0a3f58"/>
<rect x="324" y="418" width="18" height="24" fill="#0a3a60"/>
<rect x="324" y="442" width="18" height="8" fill="#0a3f58"/>
<rect x="324" y="450" width="18" height="8" fill="#0a4550"/>
<rect x="324" y="458" width="18" height="8" fill="#0a5140"/>
<rect x="324" y="466" width="18" height="8" fill="#0a5838"/>
<rect x="324" y="474" width="18" height="8" fill="#077017"/>
<rect x="324" y="482" width="18" height="8" fill="#008300"/>
<rect x="324" y="490" width="18" height="8" fill="#189204"/>
<rect x="324" y="498" width="18" height="8" fill="#309a08"/>
<rect x="324" y="506" width="18" height="16" fill="#3c9e0a"/>
<rect x="324" y="522" width="18" height="8" fill="#309a08"/>
<rect x="324" y="530" width="18" height="8" fill="#189204"/>
<rect x="324" y="538" width="18" height="8" fill="#0c8e02"/>
<rect x="324" y="546" width="18" height="8" fill="#008a00"/>
<rect x="324" y="554" width="18" height="8" fill="#008300"/>
<rect x="324" y="562" width="18" height="8" fill="#077017"/>
<rect x="324" y="570" width="18" height="8" fill="#0a6724"/>
<rect x="324" y="578" width="18" height="8" fill="#0a602e"/>
<rect x="324" y="586" width="18" height="8" fill="#0a5838"/>
<rect x="324" y="594" width="18" height="8" fill="#0a4a48"/>
<rect x="324" y="602" width="18" height="8" fill="#0a4550"/>
<rect x="324" y="610" width="18" height="8" fill="#073565"/>
<rect x="324" y="618" width="18" height="8" fill="#002a70"/>
<rect x="324" y="626" width="18" height="8" fill="#000782"/>
<rect x="324" y="634" width="18" height="8" fill="#070082"/>
<rect x="324" y="642" width="18" height="8" fill="#150076"/>
<rect x="324" y="650" width="18" height="8" fill="#2b0063"/>
<rect x="324" y="658" width="18" height="8" fill="#390052"/>
<rect x="324" y="666" width="18" height="8" fill="#3e0044"/>
<rect x="324" y="674" width="18" height="8" fill="#38003e"/>
<rect x="324" y="682" width="18" height="136" fill="#000000"/>
<rect x="342" y="170" width="18" height="32" fill="#1f0023"/>
<rect x="342" y="202" width="18" height="32" fill="#220027"/>
<rect x="342" y="234" width="18" height="8" fill="#25002a"/>
<rect x="342" y="242" width="18" height="8" fill="#28002d"/>
<rect x="342" y="250" width="18" height="8" fill="#2b0031"/>
<rect x="342" y="258" width="18" height="8" fill="#2e0034"/>
<rect x="342" y="266" width="18" height="8" fill="#320037"/>
<rect x="342" y="274" width="18" height="8" fill="#35003a"/>
<rect x="342" y="282" width="18" height="8" fill="#38003e"/>
<rect x="342" y="290" width="18" height="8" fill="#3b0041"/>
<rect x="342" y="298" width="18" height="8" fill="#3e0049"/>
<rect x="342" y="306" width="18" height="8" fill="#34005a"/>
<rect x="342" y="314" width="18" height="8" fill="#22006b"/>
<rect x="342" y="322" width="18" height="8" fill="#11007a"/>
<rect x="342" y="330" width="18" height="8" fill="#000286"/>
<rect x="342" y="338" width="18" height="112" fill="#000782"/>
<rect x="342" y="450" width="18" height="8" fill="#001d77"/>
<rect x="342" y="458" width="18" height="8" fill="#073565"/>
<rect x="342" y="466" width="18" height="8" fill="#0a3f58"/>
<rect x="342" y="474" width="18" height="8" fill="#0a4a48"/>
<rect x="342" y="482" width="18" height="8" fill="#0a6724"/>
<rect x="342" y="490" width="18" height="8" fill="#077017"/>
<rect x="342" y="498" width="18" height="32" fill="#037a09"/>
<rect x="342" y="530" width="18" height="8" fill="#077017"/>
<rect x="342" y="538" width="18" height="8" fill="#0a6724"/>
<rect x="342" y="546" width="18" height="8" fill="#0a602e"/>
<rect x="342" y="554" width="18" height="8" fill="#0a5838"/>
<rect x="342" y="562" width="18" height="8" fill="#0a5140"/>
<rect x="342" y="570" width="18" height="8" fill="#0a4a48"/>
<rect x="342" y="578" width="18" height="16" fill="#0a3f58"/>
<rect x="342" y="594" width="18" height="8" fill="#0a3a60"/>
<rect x="342" y="602" width="18" height="8" fill="#073565"/>
<rect x="342" y="610" width="18" height="8" fill="#032f6b"/>
<rect x="342" y="618" width="18" height="8" fill="#000782"/>
<rect x="342" y="626" width="18" height="8" fill="#000286"/>
<rect x="342" y="634" width="18" height="8" fill="#070082"/>
<rect x="342" y="642" width="18" height="8" fill="#11007a"/>
<rect x="342" y="650" width="18" height="8" fill="#1e006f"/>
<rect x="342" y="658" width="18" height="8" fill="#260068"/>
<rect x="342" y="666" width="18" height="8" fill="#2f005f"/>
<rect x="342" y="674" width="18" height="8" fill="#390052"/>
<rect x="342" y="682" width="18" height="136" fill="#000000"/>
<rect x="360" y="170" width="18" height="8" fill="#120016"/>
<rect x="360" y="178" width="18" height="24" fill="#15001a"/>
<rect x="360" y="202" width="18" height="16" fill="#18001d"/>
<rect x="360" y="218" width="18" height="16" fill="#1c0020"/>
<rect x="360" y="234" width="18" height="8" fill="#1f0023"/>
<rect x="360" y="242" width="18" height="8" fill="#220027"/>
<rect x="360" y="250" width="18" height="8" fill="#25002a"/>
<rect x="360" y="258" width="18" height="8" fill="#28002d"/>
<rect x="360" y="266" width="18" height="8" fill="#2b0031"/>
<rect x="360" y="274" width="18" height="8" fill="#320037"/>
<rect x="360" y="282" width="18" height="8" fill="#38003e"/>
<rect x="360" y="290" width="18" height="8" fill="#3a003f"/>
<rect x="360" y="298" width="18" height="8" fill="#3e0049"/>
<rect x="360" y="306" width="18" height="8" fill="#2f005f"/>
<rect x="360" y="314" width="18" height="8" fill="#260068"/>
<rect x="360" y="322" width="18" height="8" fill="#1e006f"/>
<rect x="360" y="330" width="18" height="8" fill="#1a0072"/>
<rect x="360" y="338" width="18" height="8" fill="#150076"/>
<rect x="360" y="346" width="18" height="48" fill="#11007a"/>
<rect x="360" y="394" width="18" height="48" fill="#1a0072"/>
<rect x="360" y="442" width="18" height="8" fill="#150076"/>
<rect x="360" y="450" width="18" height="8" fill="#11007a"/>
<rect x="360" y="458" width="18" height="8" fill="#070082"/>
<rect x="360" y="466" width="18" height="8" fill="#030086"/>
<rect x="360" y="474" width="18" height="8" fill="#032f6b"/>
<rect x="360" y="482" width="18" height="8" fill="#0a3a60"/>
<rect x="360" y="490" width="18" height="8" fill="#0a4a48"/>
<rect x="360" y="498" width="18" height="32" fill="#0a5140"/>
<rect x="360" y="530" width="18" height="8" fill="#0a4a48"/>
<rect x="360" y="538" width="18" height="8" fill="#0a4550"/>
<rect x="360" y="546" width="18" height="8" fill="#0a3f58"/>
<rect x="360" y="554" width="18" height="8" fill="#0a3a60"/>
<rect x="360" y="562" width="18" height="8" fill="#073565"/>
<rect x="360" y="570" width="18" height="8" fill="#032f6b"/>
<rect x="360" y="578" width="18" height="8" fill="#002a70"/>
<rect x="360" y="586" width="18" height="8" fill="#001d77"/>
<rect x="360" y="594" width="18" height="8" fill="#000f7d"/>
<rect x="360" y="602" width="18" height="16" fill="#000782"/>
<rect x="360" y="618" width="18" height="8" fill="#000286"/>
<rect x="360" y="626" width="18" height="8" fill="#030086"/>
<rect x="360" y="634" width="18" height="8" fill="#070082"/>
<rect x="360" y="642" width="18" height="8" fill="#11007a"/>
<rect x="360" y="650" width="18" height="8" fill="#2b0063"/>
<rect x="360" y="658" width="18" height="8" fill="#34005a"/>
<rect x="360" y="666" width="18" height="8" fill="#3e0049"/>
<rect x="360" y="674" width="18" height="8" fill="#3b0041"/>
<rect x="360" y="682" width="18" height="8" fill="#320037"/>
<rect x="360" y="690" width="18" height="128" fill="#000000"/>
<rect x="378" y="170" width="18" height="8" fill="#0c0010"/>
<rect x="378" y="178" width="18" height="56" fill="#0f0013"/>
<rect x="378" y="234" width="18" height="8" fill="#120016"/>
<rect x="378" y="242" width="18" height="8" fill="#15001a"/>
<rect x="378" y="250" width="18" height="8" fill="#18001d"/>
<rect x="378" y="258" width="18" height="8" fill="#1c0020"/>
<rect x="378" y="266" width="18" height="8" fill="#1f0023"/>
<rect x="378" y="274" width="18" height="8" fill="#220027"/>
<rect x="378" y="282" width="18" height="8" fill="#25002a"/>
<rect x="378" y="290" width="18" height="8" fill="#28002d"/>
<rect x="378" y="298" width="18" height="8" fill="#2e0034"/>
<rect x="378" y="306" width="18" height="8" fill="#320037"/>
<rect x="378" y="314" width="18" height="8" fill="#38003e"/>
<rect x="378" y="322" width="18" height="8" fill="#3b0041"/>
<rect x="378" y="330" width="18" height="8" fill="#3e0044"/>
<rect x="378" y="338" width="18" height="16" fill="#3e0049"/>
<rect x="378" y="354" width="18" height="72" fill="#390052"/>
<rect x="378" y="426" width="18" height="8" fill="#34005a"/>
<rect x="378" y="434" width="18" height="8" fill="#2f005f"/>
<rect x="378" y="442" width="18" height="8" fill="#2b0063"/>
<rect x="378" y="450" width="18" height="8" fill="#260068"/>
<rect x="378" y="458" width="18" height="8" fill="#22006b"/>
<rect x="378" y="466" width="18" height="8" fill="#1e006f"/>
<rect x="378" y="474" width="18" height="8" fill="#030086"/>
<rect x="378" y="482" width="18" height="8" fill="#000286"/>
<rect x="378" y="490" width="18" height="8" fill="#002573"/>
<rect x="378" y="498" width="18" height="32" fill="#022d6d"/>
<rect x="378" y="530" width="18" height="8" fill="#002a70"/>
<rect x="378" y="538" width="18" height="8" fill="#001d77"/>
<rect x="378" y="546" width="18" height="8" fill="#000a80"/>
<rect x="378" y="554" width="18" height="16" fill="#000782"/>
<rect x="378" y="570" width="18" height="8" fill="#000286"/>
<rect x="378" y="578" width="18" height="8" fill="#030086"/>
<rect x="378" y="586" width="18" height="8" fill="#070082"/>
<rect x="378" y="594" width="18" height="8" fill="#0c007e"/>
<rect x="378" y="602" width="18" height="8" fill="#150076"/>
<rect x="378" y="610" width="18" height="8" fill="#1a0072"/>
<rect x="378" y="618" width="18" height="8" fill="#22006b"/>
<rect x="378" y="626" width="18" height="8" fill="#260068"/>
<rect x="378" y="634" width="18" height="8" fill="#2b0063"/>
<rect x="378" y="642" width="18" height="8" fill="#34005a"/>
<rect x="378" y="650" width="18" height="8" fill="#390052"/>
<rect x="378" y="658" width="18" height="8" fill="#3e0044"/>
<rect x="378" y="666" width="18" height="8" fill="#3b0041"/>
<rect x="378" y="674" width="18" height="8" fill="#38003e"/>
<rect x="378" y="682" width="18" height="8" fill="#320037"/>
<rect x="378" y="690" width="18" height="128" fill="#000000"/>
<rect x="396" y="170" width="18" height="72" fill="#0c0010"/>
<rect x="396" y="242" width="18" height="16" fill="#0f0013"/>
<rect x="396" y="258" width="18" height="8" fill="#120016"/>
<rect x="396" y="266" width="18" height="8" fill="#15001a"/>
<rect x="396" y="274" width="18" height="8" fill="#18001d"/>
<rect x="396" y="282" width="18" height="8" fill="#1c0020"/>
<rect x="396" y="290" width="18" height="8" fill="#1f0023"/>
<rect x="396" y="298" width="18" height="8" fill="#25002a"/>
<rect x="396" y="306" width="18" height="8" fill="#28002d"/>
<rect x="396" y="314" width="18" height="8" fill="#2e0034"/>
<rect x="396" y="322" width="18" height="8" fill="#320037"/>
<rect x="396" y="330" width="18" height="8" fill="#35003a"/>
<rect x="396" y="338" width="18" height="56" fill="#38003e"/>
<rect x="396" y="394" width="18" height="32" fill="#3e0044"/>
<rect x="396" y="426" width="18" height="16" fill="#3e0049"/>
<rect x="396" y="442" width="18" height="8" fill="#390052"/>
<rect x="396" y="450" width="18" height="8" fill="#34005a"/>
<rect x="396" y="458" width="18" height="8" fill="#2b0063"/>
<rect x="396" y="466" width="18" height="8" fill="#260068"/>
<rect x="396" y="474" width="18" height="8" fill="#070082"/>
<rect x="396" y="482" width="18" height="8" fill="#030086"/>
<rect x="396" y="490" width="18" height="56" fill="#000286"/>
<rect x="396" y="546" width="18" height="8" fill="#030086"/>
<rect x="396" y="554" width="18" height="16" fill="#070082"/>
<rect x="396" y="570" width="18" height="8" fill="#11007a"/>
<rect x="396" y="578" width="18" height="8" fill="#150076"/>
<rect x="396" y="586" width="18" height="8" fill="#1a0072"/>
<rect x="396" y="594" width="18" height="8" fill="#1e006f"/>
<rect x="396" y="602" width="18" height="8" fill="#22006b"/>
<rect x="396" y="610" width="18" height="8" fill="#2b0063"/>
<rect x="396" y="618" width="18" height="8" fill="#2f005f"/>
<rect x="396" y="626" width="18" height="8" fill="#390052"/>
<rect x="396" y="634" width="18" height="8" fill="#3e0044"/>
<rect x="396" y="642" width="18" height="8" fill="#3b0041"/>
<rect x="396" y="650" width="18" height="16" fill="#38003e"/>
<rect x="396" y="666" width="18" height="8" fill="#35003a"/>
<rect x="396" y="674" width="18" height="8" fill="#320037"/>
<rect x="396" y="682" width="18" height="8" fill="#2e0034"/>
<rect x="396" y="690" width="18" height="8" fill="#28002d"/>
<rect x="396" y="698" width="18" height="120" fill="#040006"/>
<rect x="414" y="170" width="18" height="80" fill="#08000c"/>
<rect x="414" y="250" width="18" height="16" fill="#0c0010"/>
<rect x="414" y="266" width="18" height="8" fill="#0f0013"/>
<rect x="414" y="274" width="18" height="8" fill="#120016"/>
<rect x="414" y="282" width="18" height="8" fill="#15001a"/>
<rect x="414" y="290" width="18" height="8" fill="#18001d"/>
<rect x="414" y="298" width="18" height="8" fill="#1c0020"/>
<rect x="414" y="306" width="18" height="8" fill="#1f0023"/>
<rect x="414" y="314" width="18" height="8" fill="#220027"/>
<rect x="414" y="322" width="18" height="8" fill="#25002a"/>
<rect x="414" y="330" width="18" height="8" fill="#28002d"/>
<rect x="414" y="338" width="18" height="8" fill="#2b0031"/>
<rect x="414" y="346" width="18" height="8" fill="#2e0034"/>
<rect x="414" y="354" width="18" height="16" fill="#320037"/>
<rect x="414" y="370" width="18" height="16" fill="#35003a"/>
<rect x="414" y="386" width="18" height="8" fill="#38003e"/>
<rect x="414" y="394" width="18" height="48" fill="#3e0044"/>
<rect x="414" y="442" width="18" height="8" fill="#3e0049"/>
<rect x="414" y="450" width="18" height="8" fill="#390052"/>
<rect x="414" y="458" width="18" height="8" fill="#2b0063"/>
<rect x="414" y="466" width="18" height="8" fill="#260068"/>
<rect x="414" y="474" width="18" height="8" fill="#070082"/>
<rect x="414" y="482" width="18" height="8" fill="#030086"/>
<rect x="414" y="490" width="18" height="8" fill="#001779"/>
<rect x="414" y="498" width="18" height="8" fill="#002573"/>
<rect x="414" y="506" width="18" height="24" fill="#002a70"/>
<rect x="414" y="530" width="18" height="8" fill="#001d77"/>
<rect x="414" y="538" width="18" height="8" fill="#000584"/>
<rect x="414" y="546" width="18" height="8" fill="#000286"/>
<rect x="414" y="554" width="18" height="8" fill="#030086"/>
<rect x="414" y="562" width="18" height="8" fill="#000286"/>
<rect x="414" y="570" width="18" height="8" fill="#030086"/>
<rect x="414" y="578" width="18" height="8" fill="#070082"/>
<rect x="414" y="586" width="18" height="8" fill="#11007a"/>
<rect x="414" y="594" width="18" height="8" fill="#150076"/>
<rect x="414" y="602" width="18" height="8" fill="#1a0072"/>
<rect x="414" y="610" width="18" height="8" fill="#22006b"/>
<rect x="414" y="618" width="18" height="8" fill="#260068"/>
<rect x="414" y="626" width="18" height="8" fill="#2b0063"/>
<rect x="414" y="634" width="18" height="8" fill="#34005a"/>
<rect x="414" y="642" width="18" height="8" fill="#390052"/>
<rect x="414" y="650" width="18" height="16" fill="#34005a"/>
<rect x="414" y="666" width="18" height="32" fill="#390052"/>
<rect x="414" y="698" width="18" height="120" fill="#08000c"/>
<rect x="432" y="170" width="18" height="64" fill="#08000c"/>
<rect x="432" y="234" width="18" height="8" fill="#0c0010"/>
<rect x="432" y="242" width="18" height="16" fill="#0f0013"/>
<rect x="432" y="258" width="18" height="8" fill="#120016"/>
<rect x="432" y="266" width="18" height="8" fill="#15001a"/>
<rect x="432" y="274" width="18" height="8" fill="#18001d"/>
<rect x="432" y="282" width="18" height="8" fill="#1c0020"/>
<rect x="432" y="290" width="18" height="8" fill="#220027"/>
<rect x="432" y="298" width="18" height="8" fill="#25002a"/>
<rect x="432" y="306" width="18" height="8" fill="#2b0031"/>
<rect x="432" y="314" width="18" height="8" fill="#2e0034"/>
<rect x="432" y="322" width="18" height="8" fill="#320037"/>
<rect x="432" y="330" width="18" height="8" fill="#38003e"/>
<rect x="432" y="338" width="18" height="8" fill="#3e0044"/>
<rect x="432" y="346" width="18" height="8" fill="#3e0049"/>
<rect x="432" y="354" width="18" height="8" fill="#390052"/>
<rect x="432" y="362" width="18" height="16" fill="#34005a"/>
<rect x="432" y="378" width="18" height="16" fill="#2b0063"/>
<rect x="432" y="394" width="18" height="24" fill="#260068"/>
<rect x="432" y="418" width="18" height="8" fill="#22006b"/>
<rect x="432" y="426" width="18" height="8" fill="#150076"/>
<rect x="432" y="434" width="18" height="8" fill="#070082"/>
<rect x="432" y="442" width="18" height="8" fill="#000286"/>
<rect x="432" y="450" width="18" height="8" fill="#002a70"/>
<rect x="432" y="458" width="18" height="8" fill="#032f6b"/>
<rect x="432" y="466" width="18" height="8" fill="#0a3a60"/>
<rect x="432" y="474" width="18" height="8" fill="#0a5140"/>
<rect x="432" y="482" width="18" height="16" fill="#0a6724"/>
<rect x="432" y="498" width="18" height="8" fill="#037a09"/>
<rect x="432" y="506" width="18" height="32" fill="#008300"/>
<rect x="432" y="538" width="18" height="8" fill="#037a09"/>
<rect x="432" y="546" width="18" height="8" fill="#0a6724"/>
<rect x="432" y="554" width="18" height="8" fill="#0a602e"/>
<rect x="432" y="562" width="18" height="8" fill="#0a5140"/>
<rect x="432" y="570" width="18" height="8" fill="#0a4a48"/>
<rect x="432" y="578" width="18" height="8" fill="#0a3f58"/>
<rect x="432" y="586" width="18" height="8" fill="#073565"/>
<rect x="432" y="594" width="18" height="8" fill="#032f6b"/>
<rect x="432" y="602" width="18" height="48" fill="#002a70"/>
<rect x="432" y="650" width="18" height="8" fill="#000f7d"/>
<rect x="432" y="658" width="18" height="8" fill="#000782"/>
<rect x="432" y="666" width="18" height="16" fill="#000286"/>
<rect x="432" y="682" width="18" height="24" fill="#030086"/>
<rect x="432" y="706" width="18" height="112" fill="#08000c"/>
<rect x="450" y="170" width="18" height="8" fill="#0c0010"/>
<rect x="450" y="178" width="18" height="16" fill="#0f0013"/>
<rect x="450" y="194" width="18" height="8" fill="#120016"/>
<rect x="450" y="202" width="18" height="8" fill="#15001a"/>
<rect x="450" y="210" width="18" height="16" fill="#18001d"/>
<rect x="450" y="226" width="18" height="8" fill="#1c0020"/>
<rect x="450" y="234" width="18" height="8" fill="#220027"/>
<rect x="450" y="242" width="18" height="8" fill="#25002a"/>
<rect x="450" y="250" width="18" height="8" fill="#28002d"/>
<rect x="450" y="258" width="18" height="8" fill="#2b0031"/>
<rect x="450" y="266" width="18" height="8" fill="#320037"/>
<rect x="450" y="274" width="18" height="16" fill="#38003e"/>
<rect x="450" y="290" width="18" height="8" fill="#3b0041"/>
<rect x="450" y="298" width="18" height="8" fill="#390052"/>
<rect x="450" y="306" width="18" height="8" fill="#2f005f"/>
<rect x="450" y="314" width="18" height="8" fill="#260068"/>
<rect x="450" y="322" width="18" height="8" fill="#1e006f"/>
<rect x="450" y="330" width="18" height="8" fill="#150076"/>
<rect x="450" y="338" width="18" height="8" fill="#0c007e"/>
<rect x="450" y="346" width="18" height="8" fill="#030086"/>
<rect x="450" y="354" width="18" height="8" fill="#000782"/>
<rect x="450" y="362" width="18" height="8" fill="#001d77"/>
<rect x="450" y="370" width="18" height="8" fill="#032f6b"/>
<rect x="450" y="378" width="18" height="8" fill="#073565"/>
<rect x="450" y="386" width="18" height="8" fill="#0a3a60"/>
<rect x="450" y="394" width="18" height="8" fill="#0a4a48"/>
<rect x="450" y="402" width="18" height="8" fill="#0a5838"/>
<rect x="450" y="410" width="18" height="8" fill="#0a6724"/>
<rect x="450" y="418" width="18" height="8" fill="#037a09"/>
<rect x="450" y="426" width="18" height="8" fill="#008a00"/>
<rect x="450" y="434" width="18" height="8" fill="#249606"/>
<rect x="450" y="442" width="18" height="8" fill="#3c9e0a"/>
<rect x="450" y="450" width="18" height="8" fill="#54a60e"/>
<rect x="450" y="458" width="18" height="8" fill="#6cad0e"/>
<rect x="450" y="466" width="18" height="8" fill="#84b20a"/>
<rect x="450" y="474" width="18" height="8" fill="#9cb806"/>
<rect x="450" y="482" width="18" height="8" fill="#a8ba04"/>
<rect x="450" y="490" width="18" height="8" fill="#c0c000"/>
<rect x="450" y="498" width="18" height="32" fill="#c4a800"/>
<rect x="450" y="530" width="18" height="8" fill="#c0c000"/>
<rect x="450" y="538" width="18" height="8" fill="#a8ba04"/>
<rect x="450" y="546" width="18" height="8" fill="#9cb806"/>
<rect x="450" y="554" width="18" height="8" fill="#78b00c"/>
<rect x="450" y="562" width="18" height="8" fill="#6cad0e"/>
<rect x="450" y="570" width="18" height="8" fill="#60aa10"/>
<rect x="450" y="578" width="18" height="8" fill="#54a60e"/>
<rect x="450" y="586" width="18" height="8" fill="#48a20c"/>
<rect x="450" y="594" width="18" height="8" fill="#3c9e0a"/>
<rect x="450" y="602" width="18" height="8" fill="#309a08"/>
<rect x="450" y="610" width="18" height="8" fill="#249606"/>
<rect x="450" y="618" width="18" height="8" fill="#189204"/>
<rect x="450" y="626" width="18" height="8" fill="#0c8e02"/>
<rect x="450" y="634" width="18" height="16" fill="#008a00"/>
<rect x="450" y="650" width="18" height="8" fill="#008300"/>
<rect x="450" y="658" width="18" height="8" fill="#037a09"/>
<rect x="450" y="666" width="18" height="8" fill="#077017"/>
<rect x="450" y="674" width="18" height="8" fill="#0a6724"/>
<rect x="450" y="682" width="18" height="8" fill="#0a602e"/>
<rect x="450" y="690" width="18" height="16" fill="#0a5838"/>
<rect x="450" y="706" width="18" height="8" fill="#0a4a48"/>
<rect x="450" y="714" width="18" height="48" fill="#0c0010"/>
<rect x="450" y="762" width="18" height="56" fill="#0f0013"/>
<rect x="468" y="170" width="18" height="8" fill="#0c0010"/>
<rect x="468" y="178" width="18" height="8" fill="#220027"/>
<rect x="468" y="186" width="18" height="8" fill="#25002a"/>
<rect x="468" y="194" width="18" height="8" fill="#28002d"/>
<rect x="468" y="202" width="18" height="8" fill="#2b0031"/>
<rect x="468" y="210" width="18" height="8" fill="#2e0034"/>
<rect x="468" y="218" width="18" height="8" fill="#320037"/>
<rect x="468" y="226" width="18" height="8" fill="#35003a"/>
<rect x="468" y="234" width="18" height="8" fill="#38003e"/>
<rect x="468" y="242" width="18" height="8" fill="#3b0041"/>
<rect x="468" y="250" width="18" height="8" fill="#3e0044"/>
<rect x="468" y="258" width="18" height="8" fill="#390052"/>
<rect x="468" y="266" width="18" height="8" fill="#34005a"/>
<rect x="468" y="274" width="18" height="8" fill="#2b0063"/>
<rect x="468" y="282" width="18" height="8" fill="#22006b"/>
<rect x="468" y="290" width="18" height="8" fill="#150076"/>
<rect x="468" y="298" width="18" height="8" fill="#070082"/>
<rect x="468" y="306" width="18" height="8" fill="#000782"/>
<rect x="468" y="314" width="18" height="8" fill="#002a70"/>
<rect x="468" y="322" width="18" height="8" fill="#073565"/>
<rect x="468" y="330" width="18" height="8" fill="#0a3f58"/>
<rect x="468" y="338" width="18" height="8" fill="#0a5838"/>
<rect x="468" y="346" width="18" height="8" fill="#077017"/>
<rect x="468" y="354" width="18" height="8" fill="#008a00"/>
<rect x="468" y="362" width="18" height="8" fill="#189204"/>
<rect x="468" y="370" width="18" height="8" fill="#309a08"/>
<rect x="468" y="378" width="18" height="8" fill="#3c9e0a"/>
<rect x="468" y="386" width="18" height="8" fill="#54a60e"/>
<rect x="468" y="394" width="18" height="8" fill="#60aa10"/>
<rect x="468" y="402" width="18" height="8" fill="#78b00c"/>
<rect x="468" y="410" width="18" height="8" fill="#90b508"/>
<rect x="468" y="418" width="18" height="8" fill="#b4bd02"/>
<rect x="468" y="426" width="18" height="8" fill="#c3b000"/>
<rect x="468" y="434" width="18" height="8" fill="#c5a000"/>
<rect x="468" y="442" width="18" height="8" fill="#c89000"/>
<rect x="468" y="450" width="18" height="8" fill="#c87d00"/>
<rect x="468" y="458" width="18" height="8" fill="#c86b00"/>
<rect x="468" y="466" width="18" height="8" fill="#c85800"/>
<rect x="468" y="474" width="18" height="8" fill="#cc4400"/>
<rect x="468" y="482" width="18" height="8" fill="#ce3a00"/>
<rect x="468" y="490" width="18" height="8" fill="#d71f00"/>
<rect x="468" y="498" width="18" height="40" fill="#d81c00"/>
<rect x="468" y="538" width="18" height="8" fill="#d71f00"/>
<rect x="468" y="546" width="18" height="8" fill="#d32900"/>
<rect x="468" y="554" width="18" height="8" fill="#ce3a00"/>
<rect x="468" y="562" width="18" height="8" fill="#ca4e00"/>
<rect x="468" y="570" width="18" height="8" fill="#c86100"/>
<rect x="468" y="578" width="18" height="8" fill="#c87d00"/>
<rect x="468" y="586" width="18" height="8" fill="#c89000"/>
<rect x="468" y="594" width="18" height="8" fill="#c4a800"/>
<rect x="468" y="602" width="18" height="8" fill="#c0c000"/>
<rect x="468" y="610" width="18" height="8" fill="#a8ba04"/>
<rect x="468" y="618" width="18" height="8" fill="#90b508"/>
<rect x="468" y="626" width="18" height="8" fill="#78b00c"/>
<rect x="468" y="634" width="18" height="8" fill="#60aa10"/>
<rect x="468" y="642" width="18" height="8" fill="#54a60e"/>
<rect x="468" y="650" width="18" height="8" fill="#60aa10"/>
<rect x="468" y="658" width="18" height="8" fill="#48a20c"/>
<rect x="468" y="666" width="18" height="16" fill="#309a08"/>
<rect x="468" y="682" width="18" height="8" fill="#249606"/>
<rect x="468" y="690" width="18" height="8" fill="#189204"/>
<rect x="468" y="698" width="18" height="8" fill="#0c8e02"/>
<rect x="468" y="706" width="18" height="8" fill="#008a00"/>
<rect x="468" y="714" width="18" height="8" fill="#008300"/>
<rect x="468" y="722" width="18" height="8" fill="#077017"/>
<rect x="468" y="730" width="18" height="88" fill="#08000c"/>
<rect x="486" y="170" width="18" height="24" fill="#08000c"/>
<rect x="486" y="194" width="18" height="8" fill="#260068"/>
<rect x="486" y="202" width="18" height="8" fill="#22006b"/>
<rect x="486" y="210" width="18" height="8" fill="#1e006f"/>
<rect x="486" y="218" width="18" height="8" fill="#1a0072"/>
<rect x="486" y="226" width="18" height="8" fill="#11007a"/>
<rect x="486" y="234" width="18" height="8" fill="#070082"/>
<rect x="486" y="242" width="18" height="8" fill="#000286"/>
<rect x="486" y="250" width="18" height="8" fill="#000782"/>
<rect x="486" y="258" width="18" height="8" fill="#000f7d"/>
<rect x="486" y="266" width="18" height="8" fill="#002a70"/>
<rect x="486" y="274" width="18" height="8" fill="#073565"/>
<rect x="486" y="282" width="18" height="8" fill="#0a3f58"/>
<rect x="486" y="290" width="18" height="8" fill="#0a4a48"/>
<rect x="486" y="298" width="18" height="8" fill="#0a5838"/>
<rect x="486" y="306" width="18" height="8" fill="#077017"/>
<rect x="486" y="314" width="18" height="8" fill="#008a00"/>
<rect x="486" y="322" width="18" height="8" fill="#309a08"/>
<rect x="486" y="330" width="18" height="8" fill="#3c9e0a"/>
<rect x="486" y="338" width="18" height="8" fill="#6cad0e"/>
<rect x="486" y="346" width="18" height="8" fill="#90b508"/>
<rect x="486" y="354" width="18" height="8" fill="#c0c000"/>
<rect x="486" y="362" width="18" height="8" fill="#c5a000"/>
<rect x="486" y="370" width="18" height="8" fill="#c89000"/>
<rect x="486" y="378" width="18" height="8" fill="#c86b00"/>
<rect x="486" y="386" width="18" height="8" fill="#c85800"/>
<rect x="486" y="394" width="18" height="8" fill="#cc4400"/>
<rect x="486" y="402" width="18" height="8" fill="#d12d00"/>
<rect x="486" y="410" width="18" height="8" fill="#d52300"/>
<rect x="486" y="418" width="18" height="8" fill="#d81c00"/>
<rect x="486" y="426" width="18" height="8" fill="#dc1900"/>
<rect x="486" y="434" width="18" height="8" fill="#e01600"/>
<rect x="486" y="442" width="18" height="8" fill="#e41400"/>
<rect x="486" y="450" width="18" height="8" fill="#e81100"/>
<rect x="486" y="458" width="18" height="8" fill="#ef0b00"/>
<rect x="486" y="466" width="18" height="8" fill="#f70600"/>
<rect x="486" y="474" width="18" height="32" fill="#ff0000"/>
<rect x="486" y="506" width="18" height="40" fill="#ff1b1b"/>
<rect x="486" y="546" width="18" height="16" fill="#ff0000"/>
<rect x="486" y="562" width="18" height="8" fill="#fb0300"/>
<rect x="486" y="570" width="18" height="8" fill="#f70600"/>
<rect x="486" y="578" width="18" height="8" fill="#ef0b00"/>
<rect x="486" y="586" width="18" height="8" fill="#e81100"/>
<rect x="486" y="594" width="18" height="8" fill="#dc1900"/>
<rect x="486" y="602" width="18" height="8" fill="#d42600"/>
<rect x="486" y="610" width="18" height="8" fill="#cc4400"/>
<rect x="486" y="618" width="18" height="8" fill="#c86100"/>
<rect x="486" y="626" width="18" height="8" fill="#c88700"/>
<rect x="486" y="634" width="18" height="8" fill="#c5a000"/>
<rect x="486" y="642" width="18" height="8" fill="#c0c000"/>
<rect x="486" y="650" width="18" height="8" fill="#a8ba04"/>
<rect x="486" y="658" width="18" height="8" fill="#b4bd02"/>
<rect x="486" y="666" width="18" height="8" fill="#a8ba04"/>
<rect x="486" y="674" width="18" height="8" fill="#9cb806"/>
<rect x="486" y="682" width="18" height="8" fill="#90b508"/>
<rect x="486" y="690" width="18" height="8" fill="#84b20a"/>
<rect x="486" y="698" width="18" height="8" fill="#78b00c"/>
<rect x="486" y="706" width="18" height="8" fill="#6cad0e"/>
<rect x="486" y="714" width="18" height="8" fill="#60aa10"/>
<rect x="486" y="722" width="18" height="8" fill="#54a60e"/>
<rect x="486" y="730" width="18" height="8" fill="#3c9e0a"/>
<rect x="486" y="738" width="18" height="80" fill="#08000c"/>
<rect x="504" y="170" width="18" height="32" fill="#08000c"/>
<rect x="504" y="202" width="18" height="8" fill="#000782"/>
<rect x="504" y="210" width="18" height="8" fill="#002a70"/>
<rect x="504" y="218" width="18" height="8" fill="#073565"/>
<rect x="504" y="226" width="18" height="8" fill="#0a3a60"/>
<rect x="504" y="234" width="18" height="8" fill="#0a4550"/>
<rect x="504" y="242" width="18" height="8" fill="#0a4a48"/>
<rect x="504" y="250" width="18" height="8" fill="#0a5838"/>
<rect x="504" y="258" width="18" height="8" fill="#0a602e"/>
<rect x="504" y="266" width="18" height="8" fill="#077017"/>
<rect x="504" y="274" width="18" height="8" fill="#008300"/>
<rect x="504" y="282" width="18" height="8" fill="#0c8e02"/>
<rect x="504" y="290" width="18" height="8" fill="#249606"/>
<rect x="504" y="298" width="18" height="8" fill="#3c9e0a"/>
<rect x="504" y="306" width="18" height="8" fill="#54a60e"/>
<rect x="504" y="314" width="18" height="8" fill="#78b00c"/>
<rect x="504" y="322" width="18" height="8" fill="#90b508"/>
<rect x="504" y="330" width="18" height="8" fill="#9cb806"/>
<rect x="504" y="338" width="18" height="8" fill="#c3b000"/>
<rect x="504" y="346" width="18" height="8" fill="#c88700"/>
<rect x="504" y="354" width="18" height="8" fill="#c86100"/>
<rect x="504" y="362" width="18" height="8" fill="#ce3a00"/>
<rect x="504" y="370" width="18" height="8" fill="#d52300"/>
<rect x="504" y="378" width="18" height="8" fill="#e01600"/>
<rect x="504" y="386" width="18" height="8" fill="#ef0b00"/>
<rect x="504" y="394" width="18" height="8" fill="#fb0300"/>
<rect x="504" y="402" width="18" height="8" fill="#ff0000"/>
<rect x="504" y="410" width="18" height="8" fill="#ff1b1b"/>
<rect x="504" y="418" width="18" height="8" fill="#ff4545"/>
<rect x="504" y="426" width="18" height="8" fill="#ff6060"/>
<rect x="504" y="434" width="18" height="8" fill="#ff7c7c"/>
<rect x="504" y="442" width="18" height="8" fill="#ff9797"/>
<rect x="504" y="450" width="18" height="16" fill="#ffa5a5"/>
<rect x="504" y="466" width="18" height="8" fill="#ffb2b2"/>
<rect x="504" y="474" width="18" height="24" fill="#ffc0c0"/>
<rect x="504" y="498" width="18" height="8" fill="#ffc8c8"/>
<rect x="504" y="506" width="18" height="32" fill="#ffd1d1"/>
<rect x="504" y="538" width="18" height="8" fill="#ffc8c8"/>
<rect x="504" y="546" width="18" height="8" fill="#ffc0c0"/>
<rect x="504" y="554" width="18" height="8" fill="#ffb2b2"/>
<rect x="504" y="562" width="18" height="8" fill="#ffa5a5"/>
<rect x="504" y="570" width="18" height="8" fill="#ff9797"/>
<rect x="504" y="578" width="18" height="8" fill="#ff6e6e"/>
<rect x="504" y="586" width="18" height="8" fill="#ff4545"/>
<rect x="504" y="594" width="18" height="8" fill="#ff0000"/>
<rect x="504" y="602" width="18" height="8" fill="#fb0300"/>
<rect x="504" y="610" width="18" height="8" fill="#ef0b00"/>
<rect x="504" y="618" width="18" height="8" fill="#e41400"/>
<rect x="504" y="626" width="18" height="8" fill="#d81c00"/>
<rect x="504" y="634" width="18" height="8" fill="#d32900"/>
<rect x="504" y="642" width="18" height="8" fill="#ca4e00"/>
<rect x="504" y="650" width="18" height="8" fill="#c86100"/>
<rect x="504" y="658" width="18" height="8" fill="#c86b00"/>
<rect x="504" y="666" width="18" height="8" fill="#c87d00"/>
<rect x="504" y="674" width="18" height="8" fill="#c88700"/>
<rect x="504" y="682" width="18" height="8" fill="#c89000"/>
<rect x="504" y="690" width="18" height="8" fill="#c79800"/>
<rect x="504" y="698" width="18" height="8" fill="#c5a000"/>
<rect x="504" y="706" width="18" height="8" fill="#c4a800"/>
<rect x="504" y="714" width="18" height="8" fill="#c3b000"/>
<rect x="504" y="722" width="18" height="8" fill="#c0c000"/>
<rect x="504" y="730" width="18" height="8" fill="#a8ba04"/>
<rect x="504" y="738" width="18" height="8" fill="#90b508"/>
<rect x="504" y="746" width="18" height="8" fill="#78b00c"/>
<rect x="504" y="754" width="18" height="64" fill="#08000c"/>
<rect x="522" y="170" width="18" height="48" fill="#08000c"/>
<rect x="522" y="218" width="18" height="8" fill="#077017"/>
<rect x="522" y="226" width="18" height="8" fill="#008300"/>
<rect x="522" y="234" width="18" height="8" fill="#008a00"/>
<rect x="522" y="242" width="18" height="8" fill="#0c8e02"/>
<rect x="522" y="250" width="18" height="8" fill="#189204"/>
<rect x="522" y="258" width="18" height="8" fill="#249606"/>
<rect x="522" y="266" width="18" height="8" fill="#309a08"/>
<rect x="522" y="274" width="18" height="8" fill="#48a20c"/>
<rect x="522" y="282" width="18" height="8" fill="#54a60e"/>
<rect x="522" y="290" width="18" height="8" fill="#6cad0e"/>
<rect x="522" y="298" width="18" height="8" fill="#78b00c"/>
<rect x="522" y="306" width="18" height="8" fill="#90b508"/>
<rect x="522" y="314" width="18" height="8" fill="#a8ba04"/>
<rect x="522" y="322" width="18" height="8" fill="#c0c000"/>
<rect x="522" y="330" width="18" height="8" fill="#c3b000"/>
<rect x="522" y="338" width="18" height="8" fill="#c88700"/>
<rect x="522" y="346" width="18" height="8" fill="#c85800"/>
<rect x="522" y="354" width="18" height="8" fill="#d12d00"/>
<rect x="522" y="362" width="18" height="8" fill="#dc1900"/>
<rect x="522" y="370" width="18" height="8" fill="#f30800"/>
<rect x="522" y="378" width="18" height="8" fill="#ff0000"/>
<rect x="522" y="386" width="18" height="8" fill="#ff3737"/>
<rect x="522" y="394" width="18" height="8" fill="#ff9797"/>
<rect x="522" y="402" width="18" height="8" fill="#ffc0c0"/>
<rect x="522" y="410" width="18" height="8" fill="#ffd9d9"/>
<rect x="522" y="418" width="18" height="168" fill="#fff7f7"/>
<rect x="522" y="586" width="18" height="8" fill="#ffd9d9"/>
<rect x="522" y="594" width="18" height="8" fill="#ffc0c0"/>
<rect x="522" y="602" width="18" height="8" fill="#ff9797"/>
<rect x="522" y="610" width="18" height="8" fill="#ff6060"/>
<rect x="522" y="618" width="18" height="8" fill="#ff1b1b"/>
<rect x="522" y="626" width="18" height="8" fill="#fb0300"/>
<rect x="522" y="634" width="18" height="8" fill="#ef0b00"/>
<rect x="522" y="642" width="18" height="8" fill="#e41400"/>
<rect x="522" y="650" width="18" height="8" fill="#d81c00"/>
<rect x="522" y="658" width="18" height="8" fill="#d52300"/>
<rect x="522" y="666" width="18" height="8" fill="#d32900"/>
<rect x="522" y="674" width="18" height="8" fill="#d03000"/>
<rect x="522" y="682" width="18" height="8" fill="#ce3a00"/>
<rect x="522" y="690" width="18" height="8" fill="#cc4400"/>
<rect x="522" y="698" width="18" height="8" fill="#ca4e00"/>
<rect x="522" y="706" width="18" height="8" fill="#c85800"/>
<rect x="522" y="714" width="18" height="8" fill="#c86100"/>
<rect x="522" y="722" width="18" height="8" fill="#c86b00"/>
<rect x="522" y="730" width="18" height="8" fill="#c87400"/>
<rect x="522" y="738" width="18" height="8" fill="#c88700"/>
<rect x="522" y="746" width="18" height="8" fill="#c89000"/>
<rect x="522" y="754" width="18" height="8" fill="#c4a800"/>
<rect x="522" y="762" width="18" height="8" fill="#c0c000"/>
<rect x="522" y="770" width="18" height="48" fill="#08000c"/>
<rect x="540" y="170" width="18" height="64" fill="#08000c"/>
<rect x="540" y="234" width="18" height="8" fill="#309a08"/>
<rect x="540" y="242" width="18" height="8" fill="#3c9e0a"/>
<rect x="540" y="250" width="18" height="8" fill="#48a20c"/>
<rect x="540" y="258" width="18" height="8" fill="#54a60e"/>
<rect x="540" y="266" width="18" height="8" fill="#60aa10"/>
<rect x="540" y="274" width="18" height="8" fill="#6cad0e"/>
<rect x="540" y="282" width="18" height="8" fill="#78b00c"/>
<rect x="540" y="290" width="18" height="8" fill="#84b20a"/>
<rect x="540" y="298" width="18" height="8" fill="#90b508"/>
<rect x="540" y="306" width="18" height="8" fill="#9cb806"/>
<rect x="540" y="314" width="18" height="8" fill="#b4bd02"/>
<rect x="540" y="322" width="18" height="8" fill="#c4a800"/>
<rect x="540" y="330" width="18" height="8" fill="#c3b000"/>
<rect x="540" y="338" width="18" height="8" fill="#c88700"/>
<rect x="540" y="346" width="18" height="8" fill="#c85800"/>
<rect x="540" y="354" width="18" height="8" fill="#d12d00"/>
<rect x="540" y="362" width="18" height="8" fill="#dc1900"/>
<rect x="540" y="370" width="18" height="8" fill="#f30800"/>
<rect x="540" y="378" width="18" height="8" fill="#ff0000"/>
<rect x="540" y="386" width="18" height="8" fill="#ff6060"/>
<rect x="540" y="394" width="18" height="8" fill="#ffc8c8"/>
<rect x="540" y="402" width="18" height="216" fill="#fff7f7"/>
<rect x="540" y="618" width="18" height="8" fill="#ffd1d1"/>
<rect x="540" y="626" width="18" height="8" fill="#ffa5a5"/>
<rect x="540" y="634" width="18" height="8" fill="#ff6060"/>
<rect x="540" y="642" width="18" height="8" fill="#ff1b1b"/>
<rect x="540" y="650" width="18" height="8" fill="#ff0000"/>
<rect x="540" y="658" width="18" height="8" fill="#f70600"/>
<rect x="540" y="666" width="18" height="8" fill="#ef0b00"/>
<rect x="540" y="674" width="18" height="8" fill="#e81100"/>
<rect x="540" y="682" width="18" height="8" fill="#e01600"/>
<rect x="540" y="690" width="18" height="8" fill="#dc1900"/>
<rect x="540" y="698" width="18" height="8" fill="#d81c00"/>
<rect x="540" y="706" width="18" height="8" fill="#d52300"/>
<rect x="540" y="714" width="18" height="8" fill="#d32900"/>
<rect x="540" y="722" width="18" height="8" fill="#d12d00"/>
<rect x="540" y="730" width="18" height="8" fill="#d03000"/>
<rect x="540" y="738" width="18" height="8" fill="#ce3a00"/>
<rect x="540" y="746" width="18" height="8" fill="#cc4400"/>
<rect x="540" y="754" width="18" height="8" fill="#c85800"/>
<rect x="540" y="762" width="18" height="8" fill="#c86b00"/>
<rect x="540" y="770" width="18" height="8" fill="#c87d00"/>
<rect x="540" y="778" width="18" height="8" fill="#c89000"/>
<rect x="540" y="786" width="18" height="32" fill="#08000c"/>
<rect x="558" y="170" width="18" height="80" fill="#08000c"/>
<rect x="558" y="250" width="18" height="8" fill="#6cad0e"/>
<rect x="558" y="258" width="18" height="8" fill="#84b20a"/>
<rect x="558" y="266" width="18" height="8" fill="#90b508"/>
<rect x="558" y="274" width="18" height="16" fill="#9cb806"/>
<rect x="558" y="290" width="18" height="16" fill="#a8ba04"/>
<rect x="558" y="306" width="18" height="8" fill="#b4bd02"/>
<rect x="558" y="314" width="18" height="8" fill="#c0c000"/>
<rect x="558" y="322" width="18" height="8" fill="#c1b800"/>
<rect x="558" y="330" width="18" height="8" fill="#c3b000"/>
<rect x="558" y="338" width="18" height="8" fill="#c79800"/>
<rect x="558" y="346" width="18" height="8" fill="#c87d00"/>
<rect x="558" y="354" width="18" height="8" fill="#c85800"/>
<rect x="558" y="362" width="18" height="8" fill="#d03000"/>
<rect x="558" y="370" width="18" height="8" fill="#dc1900"/>
<rect x="558" y="378" width="18" height="8" fill="#ef0b00"/>
<rect x="558" y="386" width="18" height="8" fill="#ff0000"/>
<rect x="558" y="394" width="18" height="8" fill="#ff8989"/>
<rect x="558" y="402" width="18" height="240" fill="#fff7f7"/>
<rect x="558" y="642" width="18" height="8" fill="#ffd9d9"/>
<rect x="558" y="650" width="18" height="8" fill="#ff8989"/>
<rect x="558" y="658" width="18" height="8" fill="#ff5252"/>
<rect x="558" y="666" width="18" height="8" fill="#ff1b1b"/>
<rect x="558" y="674" width="18" height="8" fill="#ff0000"/>
<rect x="558" y="682" width="18" height="8" fill="#f70600"/>
<rect x="558" y="690" width="18" height="8" fill="#ef0b00"/>
<rect x="558" y="698" width="18" height="8" fill="#e81100"/>
<rect x="558" y="706" width="18" height="8" fill="#e41400"/>
<rect x="558" y="714" width="18" height="8" fill="#e01600"/>
<rect x="558" y="722" width="18" height="8" fill="#dc1900"/>
<rect x="558" y="730" width="18" height="8" fill="#d81c00"/>
<rect x="558" y="738" width="18" height="8" fill="#d71f00"/>
<rect x="558" y="746" width="18" height="8" fill="#d52300"/>
<rect x="558" y="754" width="18" height="8" fill="#d32900"/>
<rect x="558" y="762" width="18" height="8" fill="#d03000"/>
<rect x="558" y="770" width="18" height="8" fill="#ce3a00"/>
<rect x="558" y="778" width="18" height="8" fill="#cc4400"/>
<rect x="558" y="786" width="18" height="8" fill="#c86100"/>
<rect x="558" y="794" width="18" height="8" fill="#c87d00"/>
<rect x="558" y="802" width="18" height="16" fill="#08000c"/>
<rect x="576" y="170" width="18" height="96" fill="#08000c"/>
<rect x="576" y="266" width="18" height="8" fill="#78b00c"/>
<rect x="576" y="274" width="18" height="8" fill="#90b508"/>
<rect x="576" y="282" width="18" height="8" fill="#9cb806"/>
<rect x="576" y="290" width="18" height="16" fill="#a8ba04"/>
<rect x="576" y="306" width="18" height="16" fill="#b4bd02"/>
<rect x="576" y="322" width="18" height="8" fill="#c0c000"/>
<rect x="576" y="330" width="18" height="8" fill="#c1b800"/>
<rect x="576" y="338" width="18" height="8" fill="#c4a800"/>
<rect x="576" y="346" width="18" height="8" fill="#c79800"/>
<rect x="576" y="354" width="18" height="8" fill="#c87d00"/>
<rect x="576" y="362" width="18" height="8" fill="#c86100"/>
<rect x="576" y="370" width="18" height="8" fill="#cc4400"/>
<rect x="576" y="378" width="18" height="8" fill="#d42600"/>
<rect x="576" y="386" width="18" height="8" fill="#e41400"/>
<rect x="576" y="394" width="18" height="8" fill="#ff0000"/>
<rect x="576" y="402" width="18" height="8" fill="#ff5252"/>
<rect x="576" y="410" width="18" height="8" fill="#ffd9d9"/>
<rect x="576" y="418" width="18" height="248" fill="#fff7f7"/>
<rect x="576" y="666" width="18" height="8" fill="#ffc8c8"/>
<rect x="576" y="674" width="18" height="8" fill="#ff8989"/>
<rect x="576" y="682" width="18" height="8" fill="#ff5252"/>
<rect x="576" y="690" width="18" height="8" fill="#ff1b1b"/>
<rect x="576" y="698" width="18" height="8" fill="#ff0000"/>
<rect x="576" y="706" width="18" height="8" fill="#f70600"/>
<rect x="576" y="714" width="18" height="8" fill="#ef0b00"/>
<rect x="576" y="722" width="18" height="8" fill="#ec0e00"/>
<rect x="576" y="730" width="18" height="8" fill="#e81100"/>
<rect x="576" y="738" width="18" height="8" fill="#e41400"/>
<rect x="576" y="746" width="18" height="8" fill="#e01600"/>
<rect x="576" y="754" width="18" height="8" fill="#dc1900"/>
<rect x="576" y="762" width="18" height="8" fill="#d81c00"/>
<rect x="576" y="770" width="18" height="8" fill="#d52300"/>
<rect x="576" y="778" width="18" height="8" fill="#d03000"/>
<rect x="576" y="786" width="18" height="8" fill="#cc4400"/>
<rect x="576" y="794" width="18" height="8" fill="#c86100"/>
<rect x="576" y="802" width="18" height="8" fill="#c88700"/>
<rect x="576" y="810" width="18" height="8" fill="#c3b000"/>
<rect x="594" y="170" width="18" height="112" fill="#08000c"/>
<rect x="594" y="282" width="18" height="8" fill="#6cad0e"/>
<rect x="594" y="290" width="18" height="8" fill="#78b00c"/>
<rect x="594" y="298" width="18" height="16" fill="#84b20a"/>
<rect x="594" y="314" width="18" height="8" fill="#90b508"/>
<rect x="594" y="322" width="18" height="8" fill="#9cb806"/>
<rect x="594" y="330" width="18" height="8" fill="#a8ba04"/>
<rect x="594" y="338" width="18" height="8" fill="#b4bd02"/>
<rect x="594" y="346" width="18" height="8" fill="#c0c000"/>
<rect x="594" y="354" width="18" height="8" fill="#c4a800"/>
<rect x="594" y="362" width="18" height="8" fill="#c89000"/>
<rect x="594" y="370" width="18" height="8" fill="#c87400"/>
<rect x="594" y="378" width="18" height="8" fill="#ca4e00"/>
<rect x="594" y="386" width="18" height="8" fill="#d03000"/>
<rect x="594" y="394" width="18" height="8" fill="#d81c00"/>
<rect x="594" y="402" width="18" height="8" fill="#ec0e00"/>
<rect x="594" y="410" width="18" height="8" fill="#ff0e0e"/>
<rect x="594" y="418" width="18" height="8" fill="#ff9797"/>
<rect x="594" y="426" width="18" height="256" fill="#fff7f7"/>
<rect x="594" y="682" width="18" height="8" fill="#ffe1e1"/>
<rect x="594" y="690" width="18" height="8" fill="#ffb2b2"/>
<rect x="594" y="698" width="18" height="8" fill="#ff6060"/>
<rect x="594" y="706" width="18" height="8" fill="#ff3737"/>
<rect x="594" y="714" width="18" height="8" fill="#ff0000"/>
<rect x="594" y="722" width="18" height="8" fill="#f70600"/>
<rect x="594" y="730" width="18" height="8" fill="#ef0b00"/>
<rect x="594" y="738" width="18" height="8" fill="#ec0e00"/>
<rect x="594" y="746" width="18" height="8" fill="#e81100"/>
<rect x="594" y="754" width="18" height="8" fill="#e41400"/>
<rect x="594" y="762" width="18" height="8" fill="#e01600"/>
<rect x="594" y="770" width="18" height="8" fill="#d71f00"/>
<rect x="594" y="778" width="18" height="8" fill="#d03000"/>
<rect x="594" y="786" width="18" height="8" fill="#cc4400"/>
<rect x="594" y="794" width="18" height="8" fill="#c86100"/>
<rect x="594" y="802" width="18" height="8" fill="#c87d00"/>
<rect x="594" y="810" width="18" height="8" fill="#c5a000"/>
<rect x="612" y="170" width="18" height="120" fill="#08000c"/>
<rect x="612" y="290" width="18" height="8" fill="#48a20c"/>
<rect x="612" y="298" width="18" height="8" fill="#60aa10"/>
<rect x="612" y="306" width="18" height="16" fill="#6cad0e"/>
<rect x="612" y="322" width="18" height="8" fill="#78b00c"/>
<rect x="612" y="330" width="18" height="8" fill="#84b20a"/>
<rect x="612" y="338" width="18" height="8" fill="#90b508"/>
<rect x="612" y="346" width="18" height="8" fill="#a8ba04"/>
<rect x="612" y="354" width="18" height="8" fill="#b4bd02"/>
<rect x="612" y="362" width="18" height="8" fill="#c1b800"/>
<rect x="612" y="370" width="18" height="8" fill="#c5a000"/>
<rect x="612" y="378" width="18" height="8" fill="#c88700"/>
<rect x="612" y="386" width="18" height="8" fill="#c86100"/>
<rect x="612" y="394" width="18" height="8" fill="#cc4400"/>
<rect x="612" y="402" width="18" height="8" fill="#d42600"/>
<rect x="612" y="410" width="18" height="8" fill="#dc1900"/>
<rect x="612" y="418" width="18" height="8" fill="#ec0e00"/>
<rect x="612" y="426" width="18" height="8" fill="#ff0e0e"/>
<rect x="612" y="434" width="18" height="8" fill="#ff8989"/>
<rect x="612" y="442" width="18" height="256" fill="#fff7f7"/>
<rect x="612" y="698" width="18" height="8" fill="#ffe1e1"/>
<rect x="612" y="706" width="18" height="8" fill="#ffb2b2"/>
<rect x="612" y="714" width="18" height="8" fill="#ff6e6e"/>
<rect x="612" y="722" width="18" height="8" fill="#ff3737"/>
<rect x="612" y="730" width="18" height="8" fill="#ff0000"/>
<rect x="612" y="738" width="18" height="8" fill="#f70600"/>
<rect x="612" y="746" width="18" height="8" fill="#ef0b00"/>
<rect x="612" y="754" width="18" height="8" fill="#ec0e00"/>
<rect x="612" y="762" width="18" height="8" fill="#e41400"/>
<rect x="612" y="770" width="18" height="8" fill="#dc1900"/>
<rect x="612" y="778" width="18" height="8" fill="#d03000"/>
<rect x="612" y="786" width="18" height="8" fill="#c85800"/>
<rect x="612" y="794" width="18" height="8" fill="#c87400"/>
<rect x="612" y="802" width="18" height="8" fill="#c79800"/>
<rect x="612" y="810" width="18" height="8" fill="#c3b000"/>
<rect x="630" y="170" width="18" height="128" fill="#08000c"/>
<rect x="630" y="298" width="18" height="8" fill="#249606"/>
<rect x="630" y="306" width="18" height="8" fill="#309a08"/>
<rect x="630" y="314" width="18" height="8" fill="#48a20c"/>
<rect x="630" y="322" width="18" height="16" fill="#54a60e"/>
<rect x="630" y="338" width="18" height="8" fill="#60aa10"/>
<rect x="630" y="346" width="18" height="8" fill="#6cad0e"/>
<rect x="630" y="354" width="18" height="8" fill="#78b00c"/>
<rect x="630" y="362" width="18" height="8" fill="#84b20a"/>
<rect x="630" y="370" width="18" height="8" fill="#a8ba04"/>
<rect x="630" y="378" width="18" height="8" fill="#c0c000"/>
<rect x="630" y="386" width="18" height="8" fill="#c3b000"/>
<rect x="630" y="394" width="18" height="8" fill="#c79800"/>
<rect x="630" y="402" width="18" height="8" fill="#c87d00"/>
<rect x="630" y="410" width="18" height="8" fill="#c85800"/>
<rect x="630" y="418" width="18" height="8" fill="#ce3a00"/>
<rect x="630" y="426" width="18" height="8" fill="#d42600"/>
<rect x="630" y="434" width="18" height="8" fill="#e81100"/>
<rect x="630" y="442" width="18" height="8" fill="#ff0000"/>
<rect x="630" y="450" width="18" height="8" fill="#ff8989"/>
<rect x="630" y="458" width="18" height="256" fill="#fff7f7"/>
<rect x="630" y="714" width="18" height="8" fill="#ffe1e1"/>
<rect x="630" y="722" width="18" height="8" fill="#ffb2b2"/>
<rect x="630" y="730" width="18" height="8" fill="#ff6e6e"/>
<rect x="630" y="738" width="18" height="8" fill="#ff0e0e"/>
<rect x="630" y="746" width="18" height="8" fill="#fb0300"/>
<rect x="630" y="754" width="18" height="8" fill="#f30800"/>
<rect x="630" y="762" width="18" height="8" fill="#ec0e00"/>
<rect x="630" y="770" width="18" height="8" fill="#e41400"/>
<rect x="630" y="778" width="18" height="8" fill="#d32900"/>
<rect x="630" y="786" width="18" height="8" fill="#cc4400"/>
<rect x="630" y="794" width="18" height="8" fill="#c87400"/>
<rect x="630" y="802" width="18" height="8" fill="#c4a800"/>
<rect x="630" y="810" width="18" height="8" fill="#c1b800"/>
<rect x="648" y="170" width="18" height="128" fill="#08000c"/>
<rect x="648" y="298" width="18" height="8" fill="#008300"/>
<rect x="648" y="306" width="18" height="8" fill="#0c8e02"/>
<rect x="648" y="314" width="18" height="8" fill="#189204"/>
<rect x="648" y="322" width="18" height="8" fill="#249606"/>
<rect x="648" y="330" width="18" height="8" fill="#309a08"/>
<rect x="648" y="338" width="18" height="8" fill="#3c9e0a"/>
<rect x="648" y="346" width="18" height="8" fill="#48a20c"/>
<rect x="648" y="354" width="18" height="8" fill="#54a60e"/>
<rect x="648" y="362" width="18" height="8" fill="#60aa10"/>
<rect x="648" y="370" width="18" height="8" fill="#6cad0e"/>
<rect x="648" y="378" width="18" height="8" fill="#84b20a"/>
<rect x="648" y="386" width="18" height="8" fill="#9cb806"/>
<rect x="648" y="394" width="18" height="8" fill="#b4bd02"/>
<rect x="648" y="402" width="18" height="8" fill="#c3b000"/>
<rect x="648" y="410" width="18" height="8" fill="#c89000"/>
<rect x="648" y="418" width="18" height="8" fill="#c87d00"/>
<rect x="648" y="426" width="18" height="8" fill="#c85800"/>
<rect x="648" y="434" width="18" height="8" fill="#d32900"/>
<rect x="648" y="442" width="18" height="8" fill="#d81c00"/>
<rect x="648" y="450" width="18" height="8" fill="#e81100"/>
<rect x="648" y="458" width="18" height="8" fill="#ff0000"/>
<rect x="648" y="466" width="18" height="8" fill="#ff7c7c"/>
<rect x="648" y="474" width="18" height="256" fill="#fff7f7"/>
<rect x="648" y="730" width="18" height="8" fill="#ffd9d9"/>
<rect x="648" y="738" width="18" height="8" fill="#ff9797"/>
<rect x="648" y="746" width="18" height="8" fill="#ff4545"/>
<rect x="648" y="754" width="18" height="8" fill="#ff0e0e"/>
<rect x="648" y="762" width="18" height="8" fill="#fb0300"/>
<rect x="648" y="770" width="18" height="8" fill="#ef0b00"/>
<rect x="648" y="778" width="18" height="8" fill="#e81100"/>
<rect x="648" y="786" width="18" height="8" fill="#d42600"/>
<rect x="648" y="794" width="18" height="8" fill="#ca4e00"/>
<rect x="648" y="802" width="18" height="8" fill="#c87400"/>
<rect x="648" y="810" width="18" height="8" fill="#c89000"/>
<rect x="666" y="170" width="18" height="120" fill="#08000c"/>
<rect x="666" y="290" width="18" height="8" fill="#077017"/>
<rect x="666" y="298" width="18" height="8" fill="#008a00"/>
<rect x="666" y="306" width="18" height="8" fill="#0c8e02"/>
<rect x="666" y="314" width="18" height="8" fill="#189204"/>
<rect x="666" y="322" width="18" height="8" fill="#249606"/>
<rect x="666" y="330" width="18" height="16" fill="#309a08"/>
<rect x="666" y="346" width="18" height="8" fill="#3c9e0a"/>
<rect x="666" y="354" width="18" height="8" fill="#48a20c"/>
<rect x="666" y="362" width="18" height="8" fill="#60aa10"/>
<rect x="666" y="370" width="18" height="8" fill="#78b00c"/>
<rect x="666" y="378" width="18" height="8" fill="#90b508"/>
<rect x="666" y="386" width="18" height="8" fill="#a8ba04"/>
<rect x="666" y="394" width="18" height="8" fill="#c0c000"/>
<rect x="666" y="402" width="18" height="8" fill="#c3b000"/>
<rect x="666" y="410" width="18" height="8" fill="#c89000"/>
<rect x="666" y="418" width="18" height="8" fill="#c87d00"/>
<rect x="666" y="426" width="18" height="8" fill="#c85800"/>
<rect x="666" y="434" width="18" height="8" fill="#d32900"/>
<rect x="666" y="442" width="18" height="8" fill="#d81c00"/>
<rect x="666" y="450" width="18" height="8" fill="#e81100"/>
<rect x="666" y="458" width="18" height="8" fill="#ff0000"/>
<rect x="666" y="466" width="18" height="8" fill="#ff7c7c"/>
<rect x="666" y="474" width="18" height="264" fill="#fff7f7"/>
<rect x="666" y="738" width="18" height="8" fill="#ffd9d9"/>
<rect x="666" y="746" width="18" height="8" fill="#ff9797"/>
<rect x="666" y="754" width="18" height="8" fill="#ff4545"/>
<rect x="666" y="762" width="18" height="8" fill="#ff0e0e"/>
<rect x="666" y="770" width="18" height="8" fill="#f70600"/>
<rect x="666" y="778" width="18" height="8" fill="#ef0b00"/>
<rect x="666" y="786" width="18" height="8" fill="#e01600"/>
<rect x="666" y="794" width="18" height="8" fill="#d32900"/>
<rect x="666" y="802" width="18" height="8" fill="#cc4400"/>
<rect x="666" y="810" width="18" height="8" fill="#c86b00"/>
<rect x="684" y="170" width="18" height="112" fill="#08000c"/>
<rect x="684" y="282" width="18" height="8" fill="#008300"/>
<rect x="684" y="290" width="18" height="8" fill="#008a00"/>
<rect x="684" y="298" width="18" height="8" fill="#0c8e02"/>
<rect x="684" y="306" width="18" height="16" fill="#189204"/>
<rect x="684" y="322" width="18" height="8" fill="#249606"/>
<rect x="684" y="330" width="18" height="8" fill="#3c9e0a"/>
<rect x="684" y="338" width="18" height="8" fill="#48a20c"/>
<rect x="684" y="346" width="18" height="8" fill="#54a60e"/>
<rect x="684" y="354" width="18" height="8" fill="#60aa10"/>
<rect x="684" y="362" width="18" height="8" fill="#78b00c"/>
<rect x="684" y="370" width="18" height="8" fill="#90b508"/>
<rect x="684" y="378" width="18" height="8" fill="#b4bd02"/>
<rect x="684" y="386" width="18" height="8" fill="#c4a800"/>
<rect x="684" y="394" width="18" height="8" fill="#c88700"/>
<rect x="684" y="402" width="18" height="8" fill="#c86100"/>
<rect x="684" y="410" width="18" height="8" fill="#ce3a00"/>
<rect x="684" y="418" width="18" height="8" fill="#d42600"/>
<rect x="684" y="426" width="18" height="8" fill="#e41400"/>
<rect x="684" y="434" width="18" height="8" fill="#ff0000"/>
<rect x="684" y="442" width="18" height="8" fill="#ff5252"/>
<rect x="684" y="450" width="18" height="8" fill="#ffc8c8"/>
<rect x="684" y="458" width="18" height="288" fill="#fff7f7"/>
<rect x="684" y="746" width="18" height="8" fill="#ffd9d9"/>
<rect x="684" y="754" width="18" height="8" fill="#ff9797"/>
<rect x="684" y="762" width="18" height="8" fill="#ff3737"/>
<rect x="684" y="770" width="18" height="8" fill="#ff0000"/>
<rect x="684" y="778" width="18" height="8" fill="#f70600"/>
<rect x="684" y="786" width="18" height="8" fill="#ec0e00"/>
<rect x="684" y="794" width="18" height="8" fill="#e41400"/>
<rect x="684" y="802" width="18" height="8" fill="#d03000"/>
<rect x="684" y="810" width="18" height="8" fill="#c86b00"/>
<rect x="702" y="170" width="18" height="96" fill="#08000c"/>
<rect x="702" y="266" width="18" height="8" fill="#0a6724"/>
<rect x="702" y="274" width="18" height="8" fill="#077017"/>
<rect x="702" y="282" width="18" height="8" fill="#037a09"/>
<rect x="702" y="290" width="18" height="8" fill="#008300"/>
<rect x="702" y="298" width="18" height="8" fill="#008a00"/>
<rect x="702" y="306" width="18" height="8" fill="#0c8e02"/>
<rect x="702" y="314" width="18" height="8" fill="#189204"/>
<rect x="702" y="322" width="18" height="8" fill="#3c9e0a"/>
<rect x="702" y="330" width="18" height="8" fill="#54a60e"/>
<rect x="702" y="338" width="18" height="8" fill="#6cad0e"/>
<rect x="702" y="346" width="18" height="8" fill="#90b508"/>
<rect x="702" y="354" width="18" height="8" fill="#b4bd02"/>
<rect x="702" y="362" width="18" height="8" fill="#c79800"/>
<rect x="702" y="370" width="18" height="8" fill="#c86100"/>
<rect x="702" y="378" width="18" height="8" fill="#d03000"/>
<rect x="702" y="386" width="18" height="8" fill="#d81c00"/>
<rect x="702" y="394" width="18" height="8" fill="#f70600"/>
<rect x="702" y="402" width="18" height="8" fill="#ff3737"/>
<rect x="702" y="410" width="18" height="8" fill="#ffc8c8"/>
<rect x="702" y="418" width="18" height="320" fill="#fff7f7"/>
<rect x="702" y="738" width="18" height="8" fill="#ffd9d9"/>
<rect x="702" y="746" width="18" height="8" fill="#ffa5a5"/>
<rect x="702" y="754" width="18" height="8" fill="#ff6060"/>
<rect x="702" y="762" width="18" height="8" fill="#ff2929"/>
<rect x="702" y="770" width="18" height="8" fill="#ff0000"/>
<rect x="702" y="778" width="18" height="8" fill="#f70600"/>
<rect x="702" y="786" width="18" height="8" fill="#ec0e00"/>
<rect x="702" y="794" width="18" height="8" fill="#e41400"/>
<rect x="702" y="802" width="18" height="8" fill="#d03000"/>
<rect x="702" y="810" width="18" height="8" fill="#c86100"/>
<rect x="720" y="170" width="18" height="64" fill="#08000c"/>
<rect x="720" y="234" width="18" height="8" fill="#000782"/>
<rect x="720" y="242" width="18" height="8" fill="#002a70"/>
<rect x="720" y="250" width="18" height="8" fill="#073565"/>
<rect x="720" y="258" width="18" height="8" fill="#0a3f58"/>
<rect x="720" y="266" width="18" height="8" fill="#0a4a48"/>
<rect x="720" y="274" width="18" height="8" fill="#0a5838"/>
<rect x="720" y="282" width="18" height="8" fill="#0a6724"/>
<rect x="720" y="290" width="18" height="8" fill="#008300"/>
<rect x="720" y="298" width="18" height="8" fill="#249606"/>
<rect x="720" y="306" width="18" height="8" fill="#3c9e0a"/>
<rect x="720" y="314" width="18" height="8" fill="#6cad0e"/>
<rect x="720" y="322" width="18" height="8" fill="#b4bd02"/>
<rect x="720" y="330" width="18" height="8" fill="#c79800"/>
<rect x="720" y="338" width="18" height="8" fill="#ca4e00"/>
<rect x="720" y="346" width="18" height="8" fill="#d81c00"/>
<rect x="720" y="354" width="18" height="8" fill="#f70600"/>
<rect x="720" y="362" width="18" height="8" fill="#ff5252"/>
<rect x="720" y="370" width="18" height="8" fill="#ffd1d1"/>
<rect x="720" y="378" width="18" height="336" fill="#fff7f7"/>
<rect x="720" y="714" width="18" height="8" fill="#ffd9d9"/>
<rect x="720" y="722" width="18" height="8" fill="#ffb2b2"/>
<rect x="720" y="730" width="18" height="8" fill="#ff6e6e"/>
<rect x="720" y="738" width="18" height="8" fill="#ff3737"/>
<rect x="720" y="746" width="18" height="8" fill="#ff0000"/>
<rect x="720" y="754" width="18" height="8" fill="#fb0300"/>
<rect x="720" y="762" width="18" height="8" fill="#f30800"/>
<rect x="720" y="770" width="18" height="8" fill="#ec0e00"/>
<rect x="720" y="778" width="18" height="8" fill="#e41400"/>
<rect x="720" y="786" width="18" height="8" fill="#d12d00"/>
<rect x="720" y="794" width="18" height="8" fill="#c86100"/>
<rect x="720" y="802" width="18" height="16" fill="#08000c"/>
<rect x="738" y="170" width="18" height="40" fill="#08000c"/>
<rect x="738" y="210" width="18" height="8" fill="#150076"/>
<rect x="738" y="218" width="18" height="8" fill="#11007a"/>
<rect x="738" y="226" width="18" height="8" fill="#070082"/>
<rect x="738" y="234" width="18" height="8" fill="#000286"/>
<rect x="738" y="242" width="18" height="8" fill="#000782"/>
<rect x="738" y="250" width="18" height="8" fill="#002a70"/>
<rect x="738" y="258" width="18" height="8" fill="#0a3a60"/>
<rect x="738" y="266" width="18" height="8" fill="#0a4a48"/>
<rect x="738" y="274" width="18" height="8" fill="#0a6724"/>
<rect x="738" y="282" width="18" height="8" fill="#0c8e02"/>
<rect x="738" y="290" width="18" height="8" fill="#48a20c"/>
<rect x="738" y="298" width="18" height="8" fill="#9cb806"/>
<rect x="738" y="306" width="18" height="8" fill="#c89000"/>
<rect x="738" y="314" width="18" height="8" fill="#cc4400"/>
<rect x="738" y="322" width="18" height="8" fill="#ef0b00"/>
<rect x="738" y="330" width="18" height="8" fill="#ff0e0e"/>
<rect x="738" y="338" width="18" height="8" fill="#ffc0c0"/>
<rect x="738" y="346" width="18" height="312" fill="#fff7f7"/>
<rect x="738" y="658" width="18" height="8" fill="#ffe1e1"/>
<rect x="738" y="666" width="18" height="8" fill="#ffc0c0"/>
<rect x="738" y="674" width="18" height="8" fill="#ff9797"/>
<rect x="738" y="682" width="18" height="8" fill="#ff6060"/>
<rect x="738" y="690" width="18" height="8" fill="#ff3737"/>
<rect x="738" y="698" width="18" height="8" fill="#ff0e0e"/>
<rect x="738" y="706" width="18" height="8" fill="#ff0000"/>
<rect x="738" y="714" width="18" height="8" fill="#fb0300"/>
<rect x="738" y="722" width="18" height="8" fill="#f70600"/>
<rect x="738" y="730" width="18" height="8" fill="#ef0b00"/>
<rect x="738" y="738" width="18" height="8" fill="#e81100"/>
<rect x="738" y="746" width="18" height="8" fill="#dc1900"/>
<rect x="738" y="754" width="18" height="8" fill="#d03000"/>
<rect x="738" y="762" width="18" height="8" fill="#c86b00"/>
<rect x="738" y="770" width="18" height="48" fill="#08000c"/>
<rect x="756" y="170" width="18" height="24" fill="#08000c"/>
<rect x="756" y="194" width="18" height="8" fill="#3e0049"/>
<rect x="756" y="202" width="18" height="8" fill="#34005a"/>
<rect x="756" y="210" width="18" height="8" fill="#2b0063"/>
<rect x="756" y="218" width="18" height="8" fill="#22006b"/>
<rect x="756" y="226" width="18" height="8" fill="#150076"/>
<rect x="756" y="234" width="18" height="8" fill="#030086"/>
<rect x="756" y="242" width="18" height="8" fill="#000782"/>
<rect x="756" y="250" width="18" height="8" fill="#032f6b"/>
<rect x="756" y="258" width="18" height="8" fill="#0a4550"/>
<rect x="756" y="266" width="18" height="8" fill="#077017"/>
<rect x="756" y="274" width="18" height="8" fill="#3c9e0a"/>
<rect x="756" y="282" width="18" height="8" fill="#84b20a"/>
<rect x="756" y="290" width="18" height="8" fill="#c88700"/>
<rect x="756" y="298" width="18" height="8" fill="#cc4400"/>
<rect x="756" y="306" width="18" height="8" fill="#ec0e00"/>
<rect x="756" y="314" width="18" height="8" fill="#ff5252"/>
<rect x="756" y="322" width="18" height="8" fill="#ffd1d1"/>
<rect x="756" y="330" width="18" height="272" fill="#fff7f7"/>
<rect x="756" y="602" width="18" height="8" fill="#ffe1e1"/>
<rect x="756" y="610" width="18" height="8" fill="#ffc0c0"/>
<rect x="756" y="618" width="18" height="8" fill="#ff7c7c"/>
<rect x="756" y="626" width="18" height="8" fill="#ff4545"/>
<rect x="756" y="634" width="18" height="8" fill="#ff0e0e"/>
<rect x="756" y="642" width="18" height="16" fill="#ff0000"/>
<rect x="756" y="658" width="18" height="8" fill="#fb0300"/>
<rect x="756" y="666" width="18" height="8" fill="#ef0b00"/>
<rect x="756" y="674" width="18" height="8" fill="#e81100"/>
<rect x="756" y="682" width="18" height="8" fill="#d12d00"/>
<rect x="756" y="690" width="18" height="8" fill="#cc4400"/>
<rect x="756" y="698" width="18" height="8" fill="#c86100"/>
<rect x="756" y="706" width="18" height="8" fill="#c87400"/>
<rect x="756" y="714" width="18" height="8" fill="#c88700"/>
<rect x="756" y="722" width="18" height="8" fill="#c5a000"/>
<rect x="756" y="730" width="18" height="8" fill="#c1b800"/>
<rect x="756" y="738" width="18" height="80" fill="#08000c"/>
<rect x="774" y="170" width="18" height="8" fill="#08000c"/>
<rect x="774" y="178" width="18" height="8" fill="#38003e"/>
<rect x="774" y="186" width="18" height="8" fill="#3e0044"/>
<rect x="774" y="194" width="18" height="8" fill="#390052"/>
<rect x="774" y="202" width="18" height="8" fill="#2f005f"/>
<rect x="774" y="210" width="18" height="8" fill="#260068"/>
<rect x="774" y="218" width="18" height="8" fill="#1a0072"/>
<rect x="774" y="226" width="18" height="8" fill="#0c007e"/>
<rect x="774" y="234" width="18" height="8" fill="#000782"/>
<rect x="774" y="242" width="18" height="8" fill="#032f6b"/>
<rect x="774" y="250" width="18" height="8" fill="#0a4a48"/>
<rect x="774" y="258" width="18" height="8" fill="#037a09"/>
<rect x="774" y="266" width="18" height="8" fill="#3c9e0a"/>
<rect x="774" y="274" width="18" height="8" fill="#a8ba04"/>
<rect x="774" y="282" width="18" height="8" fill="#c87400"/>
<rect x="774" y="290" width="18" height="8" fill="#d32900"/>
<rect x="774" y="298" width="18" height="8" fill="#ff0000"/>
<rect x="774" y="306" width="18" height="8" fill="#ff8989"/>
<rect x="774" y="314" width="18" height="48" fill="#fff7f7"/>
<rect x="774" y="362" width="18" height="8" fill="#ffe1e1"/>
<rect x="774" y="370" width="18" height="8" fill="#ffc0c0"/>
<rect x="774" y="378" width="18" height="8" fill="#ff9797"/>
<rect x="774" y="386" width="18" height="8" fill="#ff6e6e"/>
<rect x="774" y="394" width="18" height="8" fill="#ff6060"/>
<rect x="774" y="402" width="18" height="16" fill="#ff5252"/>
<rect x="774" y="418" width="18" height="8" fill="#ff6060"/>
<rect x="774" y="426" width="18" height="8" fill="#ff6e6e"/>
<rect x="774" y="434" width="18" height="8" fill="#ff9797"/>
<rect x="774" y="442" width="18" height="8" fill="#ffc0c0"/>
<rect x="774" y="450" width="18" height="8" fill="#ffe1e1"/>
<rect x="774" y="458" width="18" height="112" fill="#fff7f7"/>
<rect x="774" y="570" width="18" height="8" fill="#ffd1d1"/>
<rect x="774" y="578" width="18" height="8" fill="#ff8989"/>
<rect x="774" y="586" width="18" height="8" fill="#ff3737"/>
<rect x="774" y="594" width="18" height="8" fill="#ff0000"/>
<rect x="774" y="602" width="18" height="8" fill="#ef0b00"/>
<rect x="774" y="610" width="18" height="8" fill="#e41400"/>
<rect x="774" y="618" width="18" height="8" fill="#d81c00"/>
<rect x="774" y="626" width="18" height="8" fill="#d03000"/>
<rect x="774" y="634" width="18" height="8" fill="#ca4e00"/>
<rect x="774" y="642" width="18" height="8" fill="#c87400"/>
<rect x="774" y="650" width="18" height="8" fill="#c88700"/>
<rect x="774" y="658" width="18" height="8" fill="#c5a000"/>
<rect x="774" y="666" width="18" height="8" fill="#c0c000"/>
<rect x="774" y="674" width="18" height="8" fill="#90b508"/>
<rect x="774" y="682" width="18" height="8" fill="#78b00c"/>
<rect x="774" y="690" width="18" height="8" fill="#60aa10"/>
<rect x="774" y="698" width="18" height="8" fill="#48a20c"/>
<rect x="774" y="706" width="18" height="8" fill="#309a08"/>
<rect x="774" y="714" width="18" height="104" fill="#08000c"/>
</g>
<rect x="144" y="170" width="648" height="648" fill="none" stroke="#000" stroke-width="1"/>
<line x1="162.0" y1="170" x2="162.0" y2="176" stroke="#000"/>
<line x1="162.0" y1="818" x2="162.0" y2="812" stroke="#000"/>
<line x1="180.0" y1="170" x2="180.0" y2="176" stroke="#000"/>
<line x1="180.0" y1="818" x2="180.0" y2="812" stroke="#000"/>
<line x1="198.0" y1="170" x2="198.0" y2="176" stroke="#000"/>
<line x1="198.0" y1="818" x2="198.0" y2="812" stroke="#000"/>
<line x1="216.0" y1="170" x2="216.0" y2="176" stroke="#000"/>
<line x1="216.0" y1="818" x2="216.0" y2="812" stroke="#000"/>
<line x1="234.0" y1="170" x2="234.0" y2="183" stroke="#000"/>
<line x1="234.0" y1="818" x2="234.0" y2="805" stroke="#000"/>
<line x1="252.0" y1="170" x2="252.0" y2="176" stroke="#000"/>
<line x1="252.0" y1="818" x2="252.0" y2="812" stroke="#000"/>
<line x1="270.0" y1="170" x2="270.0" y2="176" stroke="#000"/>
<line x1="270.0" y1="818" x2="270.0" y2="812" stroke="#000"/>
<line x1="288.0" y1="170" x2="288.0" y2="176" stroke="#000"/>
<line x1="288.0" y1="818" x2="288.0" y2="812" stroke="#000"/>
<line x1="306.0" y1="170" x2="306.0" y2="176" stroke="#000"/>
<line x1="306.0" y1="818" x2="306.0" y2="812" stroke="#000"/>
<line x1="324.0" y1="170" x2="324.0" y2="183" stroke="#000"/>
<line x1="324.0" y1="818" x2="324.0" y2="805" stroke="#000"/>
<line x1="342.0" y1="170" x2="342.0" y2="176" stroke="#000"/>
<line x1="342.0" y1="818" x2="342.0" y2="812" stroke="#000"/>
<line x1="360.0" y1="170" x2="360.0" y2="176" stroke="#000"/>
<line x1="360.0" y1="818" x2="360.0" y2="812" stroke="#000"/>
<line x1="378.0" y1="170" x2="378.0" y2="176" stroke="#000"/>
<line x1="378.0" y1="818" x2="378.0" y2="812" stroke="#000"/>
<line x1="396.0" y1="170" x2="396.0" y2="176" stroke="#000"/>
<line x1="396.0" y1="818" x2="396.0" y2="812" stroke="#000"/>
<line x1="414.0" y1="170" x2="414.0" y2="183" stroke="#000"/>
<line x1="414.0" y1="818" x2="414.0" y2="805" stroke="#000"/>
<line x1="432.0" y1="170" x2="432.0" y2="176" stroke="#000"/>
<line x1="432.0" y1="818" x2="432.0" y2="812" stroke="#000"/>
<line x1="450.0" y1="170" x2="450.0" y2="176" stroke="#000"/>
<line x1="450.0" y1="818" x2="450.0" y2="812" stroke="#000"/>
<line x1="468.0" y1="170" x2="468.0" y2="176" stroke="#000"/>
<line x1="468.0" y1="818" x2="468.0" y2="812" stroke="#000"/>
<line x1="486.0" y1="170" x2="486.0" y2="176" stroke="#000"/>
<line x1="486.0" y1="818" x2="486.0" y2="812" stroke="#000"/>
<line x1="504.0" y1="170" x2="504.0" y2="183" stroke="#000"/>
<line x1="504.0" y1="818" x2="504.0" y2="805" stroke="#000"/>
<line x1="522.0" y1="170" x2="522.0" y2="176" stroke="#000"/>
<line x1="522.0" y1="818" x2="522.0" y2="812" stroke="#000"/>
<line x1="540.0" y1="170" x2="540.0" y2="176" stroke="#000"/>
<line x1="540.0" y1="818" x2="540.0" y2="812" stroke="#000"/>
<line x1="558.0" y1="170" x2="558.0" y2="176" stroke="#000"/>
<line x1="558.0" y1="818" x2="558.0" y2="812" stroke="#000"/>
<line x1="576.0" y1="170" x2="576.0" y2="176" stroke="#000"/>
<line x1="576.0" y1="818" x2="576.0" y2="812" stroke="#000"/>
<line x1="594.0" y1="170" x2="594.0" y2="183" stroke="#000"/>
<line x1="594.0" y1="818" x2="594.0" y2="805" stroke="#000"/>
<line x1="612.0" y1="170" x2="612.0" y2="176" stroke="#000"/>
<line x1="612.0" y1="818" x2="612.0" y2="812" stroke="#000"/>
<line x1="630.0" y1="170" x2="630.0" y2="176" stroke="#000"/>
<line x1="630.0" y1="818" x2="630.0" y2="812" stroke="#000"/>
<line x1="648.0" y1="170" x2="648.0" y2="176" stroke="#000"/>
<line x1="648.0" y1="818" x2="648.0" y2="812" stroke="#000"/>
<line x1="666.0" y1="170" x2="666.0" y2="176" stroke="#000"/>
<line x1="666.0" y1="818" x2="666.0" y2="812" stroke="#000"/>
<line x1="684.0" y1="170" x2="684.0" y2="183" stroke="#000"/>
<line x1="684.0" y1="818" x2="684.0" y2="805" stroke="#000"/>
<line x1="702.0" y1="170" x2="702.0" y2="176" stroke="#000"/>
<line x1="702.0" y1="818" x2="702.0" y2="812" stroke="#000"/>
<line x1="720.0" y1="170" x2="720.0" y2="176" stroke="#000"/>
<line x1="720.0" y1="818" x2="720.0" y2="812" stroke="#000"/>
<line x1="738.0" y1="170" x2="738.0" y2="176" stroke="#000"/>
<line x1="738.0" y1="818" x2="738.0" y2="812" stroke="#000"/>
<line x1="756.0" y1="170" x2="756.0" y2="176" stroke="#000"/>
<line x1="756.0" y1="818" x2="756.0" y2="812" stroke="#000"/>
<line x1="774.0" y1="170" x2="774.0" y2="183" stroke="#000"/>
<line x1="774.0" y1="818" x2="774.0" y2="805" stroke="#000"/>
<line x1="144" y1="738" x2="150" y2="738" stroke="#000"/>
<line x1="792" y1="738" x2="786" y2="738" stroke="#000"/>
<line x1="144" y1="658" x2="157" y2="658" stroke="#000"/>
<line x1="792" y1="658" x2="779" y2="658" stroke="#000"/>
<line x1="144" y1="578" x2="150" y2="578" stroke="#000"/>
<line x1="792" y1="578" x2="786" y2="578" stroke="#000"/>
<line x1="144" y1="498" x2="157" y2="498" stroke="#000"/>
<line x1="792" y1="498" x2="779" y2="498" stroke="#000"/>
<line x1="144" y1="418" x2="150" y2="418" stroke="#000"/>
<line x1="792" y1="418" x2="786" y2="418" stroke="#000"/>
<line x1="144" y1="338" x2="157" y2="338" stroke="#000"/>
<line x1="792" y1="338" x2="779" y2="338" stroke="#000"/>
<line x1="144" y1="258" x2="150" y2="258" stroke="#000"/>
<line x1="792" y1="258" x2="786" y2="258" stroke="#000"/>
<line x1="144" y1="178" x2="157" y2="178" stroke="#000"/>
<line x1="792" y1="178" x2="779" y2="178" stroke="#000"/>
<text x="144.0" y="853" text-anchor="middle">0</text>
<text x="234.0" y="853" text-anchor="middle">50</text>
<text x="324.0" y="853" text-anchor="middle">100</text>
<text x="414.0" y="853" text-anchor="middle">150</text>
<text x="504.0" y="853" text-anchor="middle">200</text>
<text x="594.0" y="853" text-anchor="middle">250</text>
<text x="684.0" y="853" text-anchor="middle">300</text>
<text x="774.0" y="853" text-anchor="middle">350</text>
<text x="130" y="825" text-anchor="end">-40</text>
<text x="130" y="665" text-anchor="end">-20</text>
<text x="130" y="505" text-anchor="end">0</text>
<text x="130" y="345" text-anchor="end">20</text>
<text x="130" y="185" text-anchor="end">40</text>
<text x="0" y="418">Latitude</text>
<text x="468" y="894" text-anchor="middle">Longitude</text>
<text x="242.5" y="157" style="white-space:pre">PBf20150118  UT: 19.75  mjd: 57040</text>
<defs><linearGradient id="cb" x1="0" x2="1" y1="0" y2="0">
<stop offset="0.0000" stop-color="#000000"/>
<stop offset="0.0200" stop-color="#0a000e"/>
<stop offset="0.1633" stop-color="#400046"/>
<stop offset="0.1833" stop-color="#34005a"/>
<stop offset="0.2083" stop-color="#260068"/>
<stop offset="0.2333" stop-color="#1a0072"/>
<stop offset="0.2617" stop-color="#0a0080"/>
<stop offset="0.2800" stop-color="#000088"/>
<stop offset="0.2967" stop-color="#000a80"/>
<stop offset="0.3167" stop-color="#002a70"/>
<stop offset="0.3417" stop-color="#0a3a60"/>
<stop offset="0.3667" stop-color="#0a4a48"/>
<stop offset="0.3833" stop-color="#0a5838"/>
<stop offset="0.4033" stop-color="#0a6a20"/>
<stop offset="0.4217" stop-color="#008000"/>
<stop offset="0.4333" stop-color="#008a00"/>
<stop offset="0.5000" stop-color="#60aa10"/>
<stop offset="0.5667" stop-color="#c0c000"/>
<stop offset="0.6167" stop-color="#c89000"/>
<stop offset="0.6667" stop-color="#c85800"/>
<stop offset="0.7000" stop-color="#d03000"/>
<stop offset="0.7500" stop-color="#d81c00"/>
<stop offset="0.8333" stop-color="#ff0000"/>
<stop offset="0.9833" stop-color="#fff7f7"/>
<stop offset="1.0000" stop-color="#fff7f7"/>
</linearGradient></defs>
<rect x="539.5" y="33" width="324" height="14.5" fill="url(#cb)" stroke="#000" stroke-width="1"/>
<line x1="593.5" y1="33" x2="593.5" y2="36" stroke="#000" stroke-width="1"/>
<line x1="593.5" y1="47.5" x2="593.5" y2="44.5" stroke="#000" stroke-width="1"/>
<line x1="647.5" y1="33" x2="647.5" y2="36" stroke="#000" stroke-width="1"/>
<line x1="647.5" y1="47.5" x2="647.5" y2="44.5" stroke="#000" stroke-width="1"/>
<line x1="701.5" y1="33" x2="701.5" y2="36" stroke="#000" stroke-width="1"/>
<line x1="701.5" y1="47.5" x2="701.5" y2="44.5" stroke="#000" stroke-width="1"/>
<line x1="755.5" y1="33" x2="755.5" y2="36" stroke="#000" stroke-width="1"/>
<line x1="755.5" y1="47.5" x2="755.5" y2="44.5" stroke="#000" stroke-width="1"/>
<line x1="809.5" y1="33" x2="809.5" y2="36" stroke="#000" stroke-width="1"/>
<line x1="809.5" y1="47.5" x2="809.5" y2="44.5" stroke="#000" stroke-width="1"/>
<text x="539.5" y="82" text-anchor="middle">0</text>
<text x="593.5" y="82" text-anchor="middle">10</text>
<text x="647.5" y="82" text-anchor="middle">20</text>
<text x="701.5" y="82" text-anchor="middle">30</text>
<text x="755.5" y="82" text-anchor="middle">40</text>
<text x="809.5" y="82" text-anchor="middle">50</text>
<text x="863.5" y="82" text-anchor="middle">60</text>
<text x="701.5" y="20" text-anchor="middle">TEC</text>
</svg>
</body></html>
